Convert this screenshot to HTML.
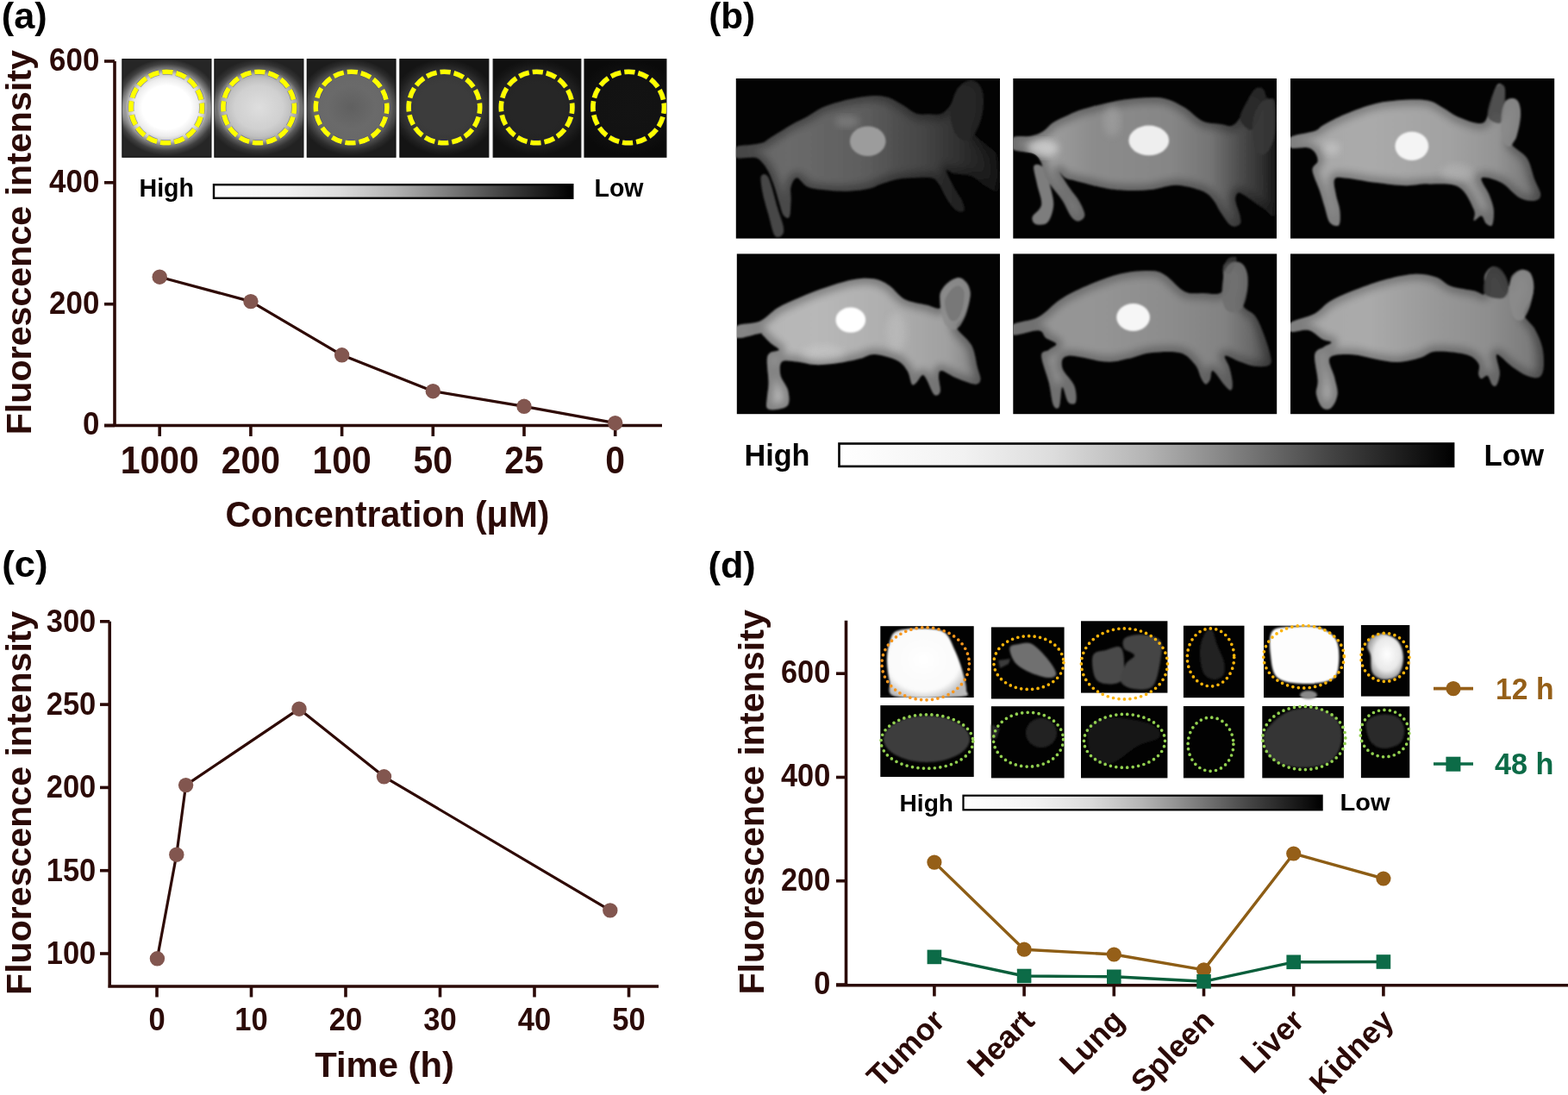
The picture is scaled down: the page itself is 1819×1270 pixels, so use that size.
<!DOCTYPE html>
<html><head><meta charset="utf-8"><title>Figure</title>
<style>html,body{margin:0;padding:0;background:#fff;overflow:hidden}svg{display:block}</style>
</head><body>
<svg width="1819" height="1270" viewBox="0 0 1819 1270" font-family="'Liberation Sans', Arial, sans-serif" font-weight="bold">
<defs>
<filter id="blur2" x="-5%" y="-5%" width="110%" height="110%"><feGaussianBlur stdDeviation="2"/></filter>
<filter id="blur1" x="-10%" y="-10%" width="120%" height="120%"><feGaussianBlur stdDeviation="1"/></filter>
<filter id="blur4" x="-20%" y="-20%" width="140%" height="140%"><feGaussianBlur stdDeviation="4"/></filter>
<filter id="blur6" x="-30%" y="-60%" width="160%" height="220%"><feGaussianBlur stdDeviation="6"/></filter>
<filter id="blur3" x="-20%" y="-20%" width="140%" height="140%"><feGaussianBlur stdDeviation="3"/></filter>
<radialGradient id="tg0" gradientUnits="userSpaceOnUse" cx="193.2" cy="124.5" r="56" gradientTransform="translate(193.2,124.5) scale(1.12,1) translate(-193.2,-124.5)"><stop offset="0" stop-color="#ffffff"/><stop offset="0.45" stop-color="#ffffff"/><stop offset="0.6" stop-color="#ececec"/><stop offset="0.7" stop-color="#cacaca"/><stop offset="0.8" stop-color="#7a7a7a"/><stop offset="0.9" stop-color="#404040"/><stop offset="1" stop-color="#262626"/></radialGradient>
<clipPath id="tc0"><rect x="141.9" y="68.7" width="103.0" height="113.5"/></clipPath>
<radialGradient id="tg1" gradientUnits="userSpaceOnUse" cx="300.2" cy="124.5" r="56" gradientTransform="translate(300.2,124.5) scale(1.12,1) translate(-300.2,-124.5)"><stop offset="0" stop-color="#dedede"/><stop offset="0.45" stop-color="#d0d0d0"/><stop offset="0.6" stop-color="#c0c0c0"/><stop offset="0.7" stop-color="#a8a8a8"/><stop offset="0.8" stop-color="#5a5a5a"/><stop offset="0.9" stop-color="#333333"/><stop offset="1" stop-color="#222222"/></radialGradient>
<clipPath id="tc1"><rect x="248.9" y="68.7" width="103.0" height="113.5"/></clipPath>
<radialGradient id="tg2" gradientUnits="userSpaceOnUse" cx="407.6" cy="124.5" r="56" gradientTransform="translate(407.6,124.5) scale(1.12,1) translate(-407.6,-124.5)"><stop offset="0" stop-color="#606060"/><stop offset="0.45" stop-color="#6a6a6a"/><stop offset="0.7" stop-color="#686868"/><stop offset="0.8" stop-color="#484848"/><stop offset="0.9" stop-color="#2c2c2c"/><stop offset="1" stop-color="#1c1c1c"/></radialGradient>
<clipPath id="tc2"><rect x="356.3" y="68.7" width="102.7" height="113.5"/></clipPath>
<radialGradient id="tg3" gradientUnits="userSpaceOnUse" cx="515.4" cy="124.5" r="56" gradientTransform="translate(515.4,124.5) scale(1.12,1) translate(-515.4,-124.5)"><stop offset="0" stop-color="#3c3c3c"/><stop offset="0.5" stop-color="#3c3c3c"/><stop offset="0.7" stop-color="#383838"/><stop offset="0.8" stop-color="#2c2c2c"/><stop offset="0.9" stop-color="#1e1e1e"/><stop offset="1" stop-color="#141414"/></radialGradient>
<clipPath id="tc3"><rect x="463.9" y="68.7" width="102.9" height="113.5"/></clipPath>
<radialGradient id="tg4" gradientUnits="userSpaceOnUse" cx="622.6" cy="124.5" r="56" gradientTransform="translate(622.6,124.5) scale(1.12,1) translate(-622.6,-124.5)"><stop offset="0" stop-color="#262626"/><stop offset="0.5" stop-color="#262626"/><stop offset="0.7" stop-color="#232323"/><stop offset="0.8" stop-color="#1e1e1e"/><stop offset="0.9" stop-color="#161616"/><stop offset="1" stop-color="#101010"/></radialGradient>
<clipPath id="tc4"><rect x="572.2" y="68.7" width="101.6" height="113.5"/></clipPath>
<radialGradient id="tg5" gradientUnits="userSpaceOnUse" cx="729.2" cy="124.5" r="56" gradientTransform="translate(729.2,124.5) scale(1.12,1) translate(-729.2,-124.5)"><stop offset="0" stop-color="#131313"/><stop offset="0.6" stop-color="#121212"/><stop offset="1" stop-color="#0a0a0a"/></radialGradient>
<clipPath id="tc5"><rect x="678.0" y="68.7" width="94.9" height="113.5"/></clipPath>
<linearGradient id="gb12" x1="0" x2="1" y1="0" y2="0"><stop offset="0" stop-color="#ffffff"/><stop offset="0.2" stop-color="#f2f2f2"/><stop offset="0.35" stop-color="#dcdcdc"/><stop offset="0.5" stop-color="#b4b4b4"/><stop offset="0.6" stop-color="#909090"/><stop offset="0.7" stop-color="#6a6a6a"/><stop offset="0.8" stop-color="#444444"/><stop offset="0.9" stop-color="#222222"/><stop offset="1" stop-color="#000000"/></linearGradient>
<linearGradient id="gb13" x1="0" x2="1" y1="0" y2="0"><stop offset="0" stop-color="#ffffff"/><stop offset="0.2" stop-color="#f2f2f2"/><stop offset="0.35" stop-color="#dcdcdc"/><stop offset="0.5" stop-color="#b4b4b4"/><stop offset="0.6" stop-color="#909090"/><stop offset="0.7" stop-color="#6a6a6a"/><stop offset="0.8" stop-color="#444444"/><stop offset="0.9" stop-color="#222222"/><stop offset="1" stop-color="#000000"/></linearGradient>
<linearGradient id="gb14" x1="0" x2="1" y1="0" y2="0"><stop offset="0" stop-color="#ffffff"/><stop offset="0.2" stop-color="#f2f2f2"/><stop offset="0.35" stop-color="#dcdcdc"/><stop offset="0.5" stop-color="#b4b4b4"/><stop offset="0.6" stop-color="#909090"/><stop offset="0.7" stop-color="#6a6a6a"/><stop offset="0.8" stop-color="#444444"/><stop offset="0.9" stop-color="#222222"/><stop offset="1" stop-color="#000000"/></linearGradient>
</defs>
<rect width="1819" height="1270" fill="#fff"/>
<text x="1.8" y="32.5" font-size="42.8" fill="#000" text-anchor="start" textLength="52.9" lengthAdjust="spacingAndGlyphs" >(a)</text>
<text x="822.2" y="32.8" font-size="42.8" fill="#000" text-anchor="start" textLength="54" lengthAdjust="spacingAndGlyphs" >(b)</text>
<text x="2.3" y="669.0" font-size="42.8" fill="#000" text-anchor="start" textLength="53.3" lengthAdjust="spacingAndGlyphs" >(c)</text>
<text x="821.5" y="670.4" font-size="42.8" fill="#000" text-anchor="start" textLength="55.2" lengthAdjust="spacingAndGlyphs" >(d)</text>
<path d="M133,71.0 V493.5 M121,493.5 H768" stroke="#2b0a07" stroke-width="3.6" fill="none"/>
<path d="M121,493.5 H133" stroke="#2b0a07" stroke-width="3.6"/>
<text x="115.3" y="504.3" font-size="36" fill="#2b0a07" text-anchor="end" textLength="19.4" lengthAdjust="spacingAndGlyphs" >0</text>
<path d="M121,352.7 H133" stroke="#2b0a07" stroke-width="3.6"/>
<text x="115.3" y="363.5" font-size="36" fill="#2b0a07" text-anchor="end" textLength="58.199999999999996" lengthAdjust="spacingAndGlyphs" >200</text>
<path d="M121,211.8 H133" stroke="#2b0a07" stroke-width="3.6"/>
<text x="115.3" y="222.6" font-size="36" fill="#2b0a07" text-anchor="end" textLength="58.199999999999996" lengthAdjust="spacingAndGlyphs" >400</text>
<path d="M121,71.0 H133" stroke="#2b0a07" stroke-width="3.6"/>
<text x="115.3" y="81.8" font-size="36" fill="#2b0a07" text-anchor="end" textLength="58.199999999999996" lengthAdjust="spacingAndGlyphs" >600</text>
<path d="M185.2,493.5 V506" stroke="#2b0a07" stroke-width="3.6"/>
<text x="185.2" y="548.5" font-size="43.5" fill="#2b0a07" text-anchor="middle" textLength="91.0" lengthAdjust="spacingAndGlyphs" >1000</text>
<path d="M290.9,493.5 V506" stroke="#2b0a07" stroke-width="3.6"/>
<text x="290.9" y="548.5" font-size="43.5" fill="#2b0a07" text-anchor="middle" textLength="68.25" lengthAdjust="spacingAndGlyphs" >200</text>
<path d="M396.6,493.5 V506" stroke="#2b0a07" stroke-width="3.6"/>
<text x="396.6" y="548.5" font-size="43.5" fill="#2b0a07" text-anchor="middle" textLength="68.25" lengthAdjust="spacingAndGlyphs" >100</text>
<path d="M502.3,493.5 V506" stroke="#2b0a07" stroke-width="3.6"/>
<text x="502.3" y="548.5" font-size="43.5" fill="#2b0a07" text-anchor="middle" textLength="45.5" lengthAdjust="spacingAndGlyphs" >50</text>
<path d="M608.0,493.5 V506" stroke="#2b0a07" stroke-width="3.6"/>
<text x="608.0" y="548.5" font-size="43.5" fill="#2b0a07" text-anchor="middle" textLength="45.5" lengthAdjust="spacingAndGlyphs" >25</text>
<path d="M713.7,493.5 V506" stroke="#2b0a07" stroke-width="3.6"/>
<text x="713.7" y="548.5" font-size="43.5" fill="#2b0a07" text-anchor="middle" textLength="22.75" lengthAdjust="spacingAndGlyphs" >0</text>
<text x="261.5" y="610.8" font-size="42" fill="#2b0a07" text-anchor="start" textLength="376" lengthAdjust="spacingAndGlyphs" >Concentration (&#956;M)</text>
<text transform="translate(35.8,504.3) rotate(-90)" x="0" y="0" font-size="41" fill="#2b0a07" textLength="446.3" lengthAdjust="spacingAndGlyphs">Fluorescence intensity</text>
<polyline points="185.2,321.2 290.9,349.6 396.6,411.8 502.3,453.7 608.0,471.3 713.7,490.6" fill="none" stroke="#2e0a05" stroke-width="3.2" stroke-linejoin="round"/>
<circle cx="185.2" cy="321.2" r="8.7" fill="#82564f"/>
<circle cx="290.9" cy="349.6" r="8.7" fill="#82564f"/>
<circle cx="396.6" cy="411.8" r="8.7" fill="#82564f"/>
<circle cx="502.3" cy="453.7" r="8.7" fill="#82564f"/>
<circle cx="608.0" cy="471.3" r="8.7" fill="#82564f"/>
<circle cx="713.7" cy="490.6" r="8.7" fill="#82564f"/>
<rect x="141.9" y="68.7" width="103.0" height="113.5" fill="url(#tg0)" stroke="#111" stroke-width="1.2"/>
<g clip-path="url(#tc0)" style="mix-blend-mode:lighten"><ellipse cx="193.2" cy="127" rx="60" ry="20" fill="#9a9a9a" filter="url(#blur6)"/></g>
<circle cx="193.2" cy="124.5" r="41.3" fill="none" stroke="#2a2f70" stroke-width="7" stroke-dasharray="12.2 4" stroke-dashoffset="5" clip-path="url(#tc0)" opacity="0.45"/>
<circle cx="193.2" cy="124.5" r="41.3" fill="none" stroke="#ffff00" stroke-width="5.6" stroke-dasharray="12.2 4" stroke-dashoffset="5" clip-path="url(#tc0)"/>
<rect x="248.9" y="68.7" width="103.0" height="113.5" fill="url(#tg1)" stroke="#111" stroke-width="1.2"/>
<g clip-path="url(#tc1)" style="mix-blend-mode:lighten"><ellipse cx="300.2" cy="127" rx="60" ry="20" fill="#727272" filter="url(#blur6)"/></g>
<circle cx="300.2" cy="124.5" r="41.3" fill="none" stroke="#2a2f70" stroke-width="7" stroke-dasharray="12.2 4" stroke-dashoffset="5" clip-path="url(#tc1)" opacity="0.45"/>
<circle cx="300.2" cy="124.5" r="41.3" fill="none" stroke="#ffff00" stroke-width="5.6" stroke-dasharray="12.2 4" stroke-dashoffset="5" clip-path="url(#tc1)"/>
<rect x="356.3" y="68.7" width="102.7" height="113.5" fill="url(#tg2)" stroke="#111" stroke-width="1.2"/>
<g clip-path="url(#tc2)" style="mix-blend-mode:lighten"><ellipse cx="407.6" cy="127" rx="60" ry="20" fill="#4c4c4c" filter="url(#blur6)"/></g>
<circle cx="407.6" cy="124.5" r="41.3" fill="none" stroke="#2a2f70" stroke-width="7" stroke-dasharray="12.2 4" stroke-dashoffset="5" clip-path="url(#tc2)" opacity="0.45"/>
<circle cx="407.6" cy="124.5" r="41.3" fill="none" stroke="#ffff00" stroke-width="5.6" stroke-dasharray="12.2 4" stroke-dashoffset="5" clip-path="url(#tc2)"/>
<rect x="463.9" y="68.7" width="102.9" height="113.5" fill="url(#tg3)" stroke="#111" stroke-width="1.2"/>
<g clip-path="url(#tc3)" style="mix-blend-mode:lighten"><ellipse cx="515.4" cy="127" rx="60" ry="20" fill="#2e2e2e" filter="url(#blur6)"/></g>
<circle cx="515.4" cy="124.5" r="41.3" fill="none" stroke="#2a2f70" stroke-width="7" stroke-dasharray="12.2 4" stroke-dashoffset="5" clip-path="url(#tc3)" opacity="0.45"/>
<circle cx="515.4" cy="124.5" r="41.3" fill="none" stroke="#ffff00" stroke-width="5.6" stroke-dasharray="12.2 4" stroke-dashoffset="5" clip-path="url(#tc3)"/>
<rect x="572.2" y="68.7" width="101.6" height="113.5" fill="url(#tg4)" stroke="#111" stroke-width="1.2"/>
<circle cx="622.6" cy="124.5" r="41.3" fill="none" stroke="#2a2f70" stroke-width="7" stroke-dasharray="12.2 4" stroke-dashoffset="5" clip-path="url(#tc4)" opacity="0.45"/>
<circle cx="622.6" cy="124.5" r="41.3" fill="none" stroke="#ffff00" stroke-width="5.6" stroke-dasharray="12.2 4" stroke-dashoffset="5" clip-path="url(#tc4)"/>
<rect x="678.0" y="68.7" width="94.9" height="113.5" fill="url(#tg5)" stroke="#111" stroke-width="1.2"/>
<circle cx="729.2" cy="124.5" r="41.3" fill="none" stroke="#2a2f70" stroke-width="7" stroke-dasharray="12.2 4" stroke-dashoffset="5" clip-path="url(#tc5)" opacity="0.45"/>
<circle cx="729.2" cy="124.5" r="41.3" fill="none" stroke="#ffff00" stroke-width="5.6" stroke-dasharray="12.2 4" stroke-dashoffset="5" clip-path="url(#tc5)"/>
<rect x="248.0" y="214.2" width="416.3" height="15.6" fill="url(#gb12)" stroke="#000" stroke-width="2.4"/>
<text x="161.5" y="228.4" font-size="29" fill="#000" text-anchor="start" textLength="63.5" lengthAdjust="spacingAndGlyphs" >High</text>
<text x="689.5" y="228.2" font-size="29" fill="#000" text-anchor="start" textLength="57" lengthAdjust="spacingAndGlyphs" >Low</text>
<g id="mice">
<defs><clipPath id="mc0"><rect x="853.8" y="91.0" width="306.2" height="185.6"/></clipPath><linearGradient id="mg0" gradientUnits="userSpaceOnUse" x1="853.8" y1="0" x2="1160.0" y2="0"><stop offset="0" stop-color="#646464"/><stop offset="0.2" stop-color="#6a6a6a"/><stop offset="0.4" stop-color="#626262"/><stop offset="0.5" stop-color="#5c5c5c"/><stop offset="0.6" stop-color="#505050"/><stop offset="0.72" stop-color="#444444"/><stop offset="0.87" stop-color="#2c2c2c"/><stop offset="1" stop-color="#161616"/></linearGradient></defs>
<rect x="853.8" y="91.0" width="306.2" height="185.6" fill="#030303"/>
<g clip-path="url(#mc0)"><g filter="url(#blur1)">
<path d="M882.9,204.5 C884.1,201.6 888.4,200.2 891.6,206.2 C894.7,212.3 899.1,231.3 901.9,240.8 C904.8,250.4 908.0,258.0 908.9,263.4 C909.7,268.7 908.9,271.3 907.1,272.9 C905.4,274.5 901.1,276.8 898.5,272.9 C895.9,269.0 893.9,257.7 891.6,249.5 C889.2,241.3 886.1,231.0 884.6,223.5 C883.2,216.0 881.7,207.4 882.9,204.5Z" fill="#464646"/>
<path d="M853.8,170.7 C856.6,168.3 865.6,169.0 870.8,168.1 C875.9,167.3 881.2,166.7 884.6,165.5 C888.1,164.4 888.1,163.4 891.6,161.2 C895.0,159.0 900.8,155.4 905.4,152.5 C910.0,149.6 914.1,146.8 919.3,143.9 C924.5,141.0 930.8,138.4 936.6,135.2 C942.4,132.0 948.1,127.6 953.9,124.8 C959.7,122.1 965.4,120.5 971.2,118.8 C977.0,117.0 981.3,115.7 988.5,114.4 C995.7,113.1 1007.3,111.1 1014.5,111.0 C1021.7,110.8 1026.0,111.6 1031.8,113.6 C1037.6,115.6 1043.9,120.1 1049.1,123.1 C1054.3,126.1 1058.1,130.2 1063.0,131.8 C1067.9,133.3 1073.7,132.6 1078.6,132.6 C1083.5,132.6 1088.4,133.6 1092.4,131.8 C1096.5,129.9 1100.2,125.1 1102.8,121.4 C1105.4,117.6 1105.7,113.3 1108.0,109.2 C1110.3,105.2 1113.5,99.6 1116.7,97.1 C1119.8,94.7 1123.9,94.2 1127.1,94.5 C1130.2,94.8 1133.4,96.1 1135.7,98.9 C1138.0,101.6 1140.5,104.6 1140.9,111.0 C1141.3,117.3 1140.0,129.7 1138.3,136.9 C1136.6,144.2 1129.5,149.1 1130.5,154.3 C1131.5,159.5 1139.9,163.5 1144.4,168.1 C1148.8,172.7 1155.1,173.3 1157.4,182.0 C1159.7,190.6 1160.4,214.3 1158.2,220.1 C1156.1,225.8 1149.6,219.2 1144.4,216.6 C1139.2,214.0 1133.4,207.1 1127.1,204.5 C1120.7,201.9 1111.2,202.2 1106.3,201.0 C1101.4,199.9 1097.6,195.0 1097.6,197.6 C1097.6,200.2 1103.1,210.5 1106.3,216.6 C1109.5,222.7 1114.6,229.3 1116.7,233.9 C1118.7,238.5 1119.6,242.6 1118.4,244.3 C1117.2,246.0 1112.9,246.3 1109.7,244.3 C1106.6,242.3 1102.8,237.4 1099.4,232.2 C1095.9,227.0 1092.1,217.5 1089.0,213.1 C1085.8,208.8 1085.5,207.4 1080.3,206.2 C1075.1,205.1 1064.4,205.9 1057.8,206.2 C1051.2,206.5 1046.2,206.8 1040.5,207.9 C1034.7,209.1 1028.9,211.3 1023.2,213.1 C1017.4,215.0 1013.1,217.8 1005.8,219.2 C998.6,220.6 988.5,221.7 979.9,221.8 C971.2,221.9 961.1,220.9 953.9,220.1 C946.7,219.2 941.5,218.9 936.6,216.6 C931.7,214.3 927.6,206.2 924.5,206.2 C921.3,206.2 918.7,212.3 917.5,216.6 C916.4,220.9 917.8,226.4 917.5,232.2 C917.2,238.0 917.2,248.3 915.8,251.2 C914.4,254.1 910.9,252.4 908.9,249.5 C906.9,246.6 905.4,239.4 903.7,233.9 C901.9,228.4 900.5,222.4 898.5,216.6 C896.5,210.8 893.9,203.9 891.6,199.3 C889.2,194.7 887.2,191.6 884.6,188.9 C882.0,186.2 881.1,183.8 876.0,182.8 C870.8,181.8 857.5,184.9 853.8,182.8 C850.1,180.8 851.0,173.2 853.8,170.7Z" fill="url(#mg0)"/>
<clipPath id="mb0"><path d="M853.8,170.7 C856.6,168.3 865.6,169.0 870.8,168.1 C875.9,167.3 881.2,166.7 884.6,165.5 C888.1,164.4 888.1,163.4 891.6,161.2 C895.0,159.0 900.8,155.4 905.4,152.5 C910.0,149.6 914.1,146.8 919.3,143.9 C924.5,141.0 930.8,138.4 936.6,135.2 C942.4,132.0 948.1,127.6 953.9,124.8 C959.7,122.1 965.4,120.5 971.2,118.8 C977.0,117.0 981.3,115.7 988.5,114.4 C995.7,113.1 1007.3,111.1 1014.5,111.0 C1021.7,110.8 1026.0,111.6 1031.8,113.6 C1037.6,115.6 1043.9,120.1 1049.1,123.1 C1054.3,126.1 1058.1,130.2 1063.0,131.8 C1067.9,133.3 1073.7,132.6 1078.6,132.6 C1083.5,132.6 1088.4,133.6 1092.4,131.8 C1096.5,129.9 1100.2,125.1 1102.8,121.4 C1105.4,117.6 1105.7,113.3 1108.0,109.2 C1110.3,105.2 1113.5,99.6 1116.7,97.1 C1119.8,94.7 1123.9,94.2 1127.1,94.5 C1130.2,94.8 1133.4,96.1 1135.7,98.9 C1138.0,101.6 1140.5,104.6 1140.9,111.0 C1141.3,117.3 1140.0,129.7 1138.3,136.9 C1136.6,144.2 1129.5,149.1 1130.5,154.3 C1131.5,159.5 1139.9,163.5 1144.4,168.1 C1148.8,172.7 1155.1,173.3 1157.4,182.0 C1159.7,190.6 1160.4,214.3 1158.2,220.1 C1156.1,225.8 1149.6,219.2 1144.4,216.6 C1139.2,214.0 1133.4,207.1 1127.1,204.5 C1120.7,201.9 1111.2,202.2 1106.3,201.0 C1101.4,199.9 1097.6,195.0 1097.6,197.6 C1097.6,200.2 1103.1,210.5 1106.3,216.6 C1109.5,222.7 1114.6,229.3 1116.7,233.9 C1118.7,238.5 1119.6,242.6 1118.4,244.3 C1117.2,246.0 1112.9,246.3 1109.7,244.3 C1106.6,242.3 1102.8,237.4 1099.4,232.2 C1095.9,227.0 1092.1,217.5 1089.0,213.1 C1085.8,208.8 1085.5,207.4 1080.3,206.2 C1075.1,205.1 1064.4,205.9 1057.8,206.2 C1051.2,206.5 1046.2,206.8 1040.5,207.9 C1034.7,209.1 1028.9,211.3 1023.2,213.1 C1017.4,215.0 1013.1,217.8 1005.8,219.2 C998.6,220.6 988.5,221.7 979.9,221.8 C971.2,221.9 961.1,220.9 953.9,220.1 C946.7,219.2 941.5,218.9 936.6,216.6 C931.7,214.3 927.6,206.2 924.5,206.2 C921.3,206.2 918.7,212.3 917.5,216.6 C916.4,220.9 917.8,226.4 917.5,232.2 C917.2,238.0 917.2,248.3 915.8,251.2 C914.4,254.1 910.9,252.4 908.9,249.5 C906.9,246.6 905.4,239.4 903.7,233.9 C901.9,228.4 900.5,222.4 898.5,216.6 C896.5,210.8 893.9,203.9 891.6,199.3 C889.2,194.7 887.2,191.6 884.6,188.9 C882.0,186.2 881.1,183.8 876.0,182.8 C870.8,181.8 857.5,184.9 853.8,182.8 C850.1,180.8 851.0,173.2 853.8,170.7Z"/></clipPath>
<g clip-path="url(#mb0)"><path d="M853.8,170.7 C856.6,168.3 865.6,169.0 870.8,168.1 C875.9,167.3 881.2,166.7 884.6,165.5 C888.1,164.4 888.1,163.4 891.6,161.2 C895.0,159.0 900.8,155.4 905.4,152.5 C910.0,149.6 914.1,146.8 919.3,143.9 C924.5,141.0 930.8,138.4 936.6,135.2 C942.4,132.0 948.1,127.6 953.9,124.8 C959.7,122.1 965.4,120.5 971.2,118.8 C977.0,117.0 981.3,115.7 988.5,114.4 C995.7,113.1 1007.3,111.1 1014.5,111.0 C1021.7,110.8 1026.0,111.6 1031.8,113.6 C1037.6,115.6 1043.9,120.1 1049.1,123.1 C1054.3,126.1 1058.1,130.2 1063.0,131.8 C1067.9,133.3 1073.7,132.6 1078.6,132.6 C1083.5,132.6 1088.4,133.6 1092.4,131.8 C1096.5,129.9 1100.2,125.1 1102.8,121.4 C1105.4,117.6 1105.7,113.3 1108.0,109.2 C1110.3,105.2 1113.5,99.6 1116.7,97.1 C1119.8,94.7 1123.9,94.2 1127.1,94.5 C1130.2,94.8 1133.4,96.1 1135.7,98.9 C1138.0,101.6 1140.5,104.6 1140.9,111.0 C1141.3,117.3 1140.0,129.7 1138.3,136.9 C1136.6,144.2 1129.5,149.1 1130.5,154.3 C1131.5,159.5 1139.9,163.5 1144.4,168.1 C1148.8,172.7 1155.1,173.3 1157.4,182.0 C1159.7,190.6 1160.4,214.3 1158.2,220.1 C1156.1,225.8 1149.6,219.2 1144.4,216.6 C1139.2,214.0 1133.4,207.1 1127.1,204.5 C1120.7,201.9 1111.2,202.2 1106.3,201.0 C1101.4,199.9 1097.6,195.0 1097.6,197.6 C1097.6,200.2 1103.1,210.5 1106.3,216.6 C1109.5,222.7 1114.6,229.3 1116.7,233.9 C1118.7,238.5 1119.6,242.6 1118.4,244.3 C1117.2,246.0 1112.9,246.3 1109.7,244.3 C1106.6,242.3 1102.8,237.4 1099.4,232.2 C1095.9,227.0 1092.1,217.5 1089.0,213.1 C1085.8,208.8 1085.5,207.4 1080.3,206.2 C1075.1,205.1 1064.4,205.9 1057.8,206.2 C1051.2,206.5 1046.2,206.8 1040.5,207.9 C1034.7,209.1 1028.9,211.3 1023.2,213.1 C1017.4,215.0 1013.1,217.8 1005.8,219.2 C998.6,220.6 988.5,221.7 979.9,221.8 C971.2,221.9 961.1,220.9 953.9,220.1 C946.7,219.2 941.5,218.9 936.6,216.6 C931.7,214.3 927.6,206.2 924.5,206.2 C921.3,206.2 918.7,212.3 917.5,216.6 C916.4,220.9 917.8,226.4 917.5,232.2 C917.2,238.0 917.2,248.3 915.8,251.2 C914.4,254.1 910.9,252.4 908.9,249.5 C906.9,246.6 905.4,239.4 903.7,233.9 C901.9,228.4 900.5,222.4 898.5,216.6 C896.5,210.8 893.9,203.9 891.6,199.3 C889.2,194.7 887.2,191.6 884.6,188.9 C882.0,186.2 881.1,183.8 876.0,182.8 C870.8,181.8 857.5,184.9 853.8,182.8 C850.1,180.8 851.0,173.2 853.8,170.7Z" fill="none" stroke="#000" stroke-width="14" opacity="0.3" filter="url(#blur4)"/></g>
<path d="M1104.5,119.6 C1105.7,114.1 1107.1,108.2 1109.7,104.0 C1112.3,99.9 1116.7,96.3 1120.1,94.5 C1123.6,92.8 1127.5,92.4 1130.5,93.7 C1133.5,95.0 1136.6,98.0 1138.3,102.3 C1140.0,106.6 1141.1,113.3 1140.9,119.6 C1140.8,126.0 1139.5,134.1 1137.4,140.4 C1135.4,146.8 1132.0,154.0 1128.8,157.7 C1125.6,161.5 1121.9,163.5 1118.4,162.9 C1114.9,162.3 1110.6,158.6 1108.0,154.3 C1105.4,149.9 1103.4,142.7 1102.8,136.9 C1102.2,131.2 1103.4,125.1 1104.5,119.6Z" fill="#262626" opacity="0.85"/>
</g>
<g clip-path="url(#mb0)"><ellipse cx="983" cy="141" rx="14" ry="7" fill="#8a8a8a" opacity="0.6" filter="url(#blur4)"/></g>
<ellipse cx="1006.7" cy="163.8" rx="20.8" ry="17.3" fill="#9c9c9c" filter="url(#blur1)"/>
</g>
<defs><clipPath id="mc1"><rect x="1175.3" y="91.0" width="305.7" height="185.6"/></clipPath><linearGradient id="mg1" gradientUnits="userSpaceOnUse" x1="1175.3" y1="0" x2="1481.0" y2="0"><stop offset="0" stop-color="#959595"/><stop offset="0.12" stop-color="#a0a0a0"/><stop offset="0.3" stop-color="#8c8c8c"/><stop offset="0.6" stop-color="#868686"/><stop offset="0.75" stop-color="#747474"/><stop offset="0.88" stop-color="#464646"/><stop offset="1" stop-color="#1e1e1e"/></linearGradient></defs>
<rect x="1175.3" y="91.0" width="305.7" height="185.6" fill="#030303"/>
<g clip-path="url(#mc1)"><g filter="url(#blur1)">
<path d="M1199.4,192.4 C1200.9,189.5 1208.1,190.6 1211.6,195.8 C1215.0,201.0 1218.5,216.0 1220.2,223.5 C1221.9,231.0 1222.8,235.1 1221.9,240.8 C1221.1,246.6 1218.5,255.0 1215.0,258.2 C1211.6,261.3 1204.1,261.0 1201.2,259.9 C1198.3,258.7 1196.6,255.0 1197.7,251.2 C1198.9,247.5 1207.2,243.7 1208.1,237.4 C1209.0,231.0 1204.3,220.6 1202.9,213.1 C1201.5,205.6 1198.0,195.2 1199.4,192.4Z" fill="#7d7d7d"/>
<path d="M1175.2,159.5 C1178.7,156.9 1190.2,158.9 1196.0,157.7 C1201.7,156.6 1205.5,155.1 1209.8,152.5 C1214.2,149.9 1217.0,145.3 1221.9,142.1 C1226.9,139.0 1233.5,136.1 1239.3,133.5 C1245.0,130.9 1247.9,129.2 1256.6,126.6 C1265.2,124.0 1279.7,120.1 1291.2,117.9 C1302.8,115.7 1315.7,114.1 1325.8,113.6 C1335.9,113.0 1343.7,112.6 1351.8,114.4 C1359.9,116.3 1367.1,120.5 1374.3,124.8 C1381.5,129.2 1388.2,137.2 1395.1,140.4 C1402.0,143.6 1410.1,143.0 1415.9,143.9 C1421.7,144.7 1425.7,147.3 1429.7,145.6 C1433.8,143.9 1436.7,139.3 1440.1,133.5 C1443.6,127.7 1447.6,116.2 1450.5,111.0 C1453.4,105.8 1455.1,103.5 1457.4,102.3 C1459.8,101.2 1462.1,102.0 1464.4,104.0 C1466.7,106.1 1468.8,112.1 1471.3,114.4 C1473.8,116.7 1477.6,111.3 1479.1,117.9 C1480.5,124.5 1479.8,142.4 1480.0,154.3 C1480.1,166.1 1480.0,173.3 1480.0,188.9 C1480.0,204.5 1482.6,239.1 1480.0,247.8 C1477.4,256.4 1469.9,244.0 1464.4,240.8 C1458.9,237.7 1451.7,231.6 1447.1,228.7 C1442.4,225.8 1439.0,223.0 1436.7,223.5 C1434.4,224.1 1432.9,227.9 1433.2,232.2 C1433.5,236.5 1437.5,244.9 1438.4,249.5 C1439.3,254.1 1440.1,257.9 1438.4,259.9 C1436.7,261.9 1431.8,263.9 1428.0,261.6 C1424.3,259.3 1419.1,250.7 1415.9,246.0 C1412.7,241.4 1411.8,237.7 1409.0,233.9 C1406.1,230.2 1403.8,226.4 1398.6,223.5 C1393.4,220.6 1384.1,218.0 1377.8,216.6 C1371.4,215.2 1367.7,214.3 1360.5,214.9 C1353.3,215.4 1343.2,219.1 1334.5,220.1 C1325.8,221.1 1317.2,221.2 1308.5,220.9 C1299.9,220.6 1292.7,220.2 1282.6,218.3 C1272.5,216.5 1255.7,211.7 1247.9,209.7 C1240.1,207.7 1239.0,207.9 1235.8,206.2 C1232.6,204.5 1228.0,197.3 1228.9,199.3 C1229.7,201.3 1237.1,212.6 1241.0,218.3 C1244.9,224.1 1249.4,228.7 1252.3,233.9 C1255.1,239.1 1258.5,245.8 1258.3,249.5 C1258.2,253.3 1254.0,256.1 1251.4,256.4 C1248.8,256.7 1245.9,255.3 1242.7,251.2 C1239.6,247.2 1236.1,238.0 1232.3,232.2 C1228.6,226.4 1223.7,221.5 1220.2,216.6 C1216.8,211.7 1213.6,207.4 1211.6,202.7 C1209.5,198.1 1210.1,192.9 1208.1,188.9 C1206.1,184.9 1204.9,181.1 1199.4,178.5 C1194.0,175.9 1179.2,176.5 1175.2,173.3 C1171.2,170.1 1171.7,162.1 1175.2,159.5Z" fill="url(#mg1)"/>
<clipPath id="mb1"><path d="M1175.2,159.5 C1178.7,156.9 1190.2,158.9 1196.0,157.7 C1201.7,156.6 1205.5,155.1 1209.8,152.5 C1214.2,149.9 1217.0,145.3 1221.9,142.1 C1226.9,139.0 1233.5,136.1 1239.3,133.5 C1245.0,130.9 1247.9,129.2 1256.6,126.6 C1265.2,124.0 1279.7,120.1 1291.2,117.9 C1302.8,115.7 1315.7,114.1 1325.8,113.6 C1335.9,113.0 1343.7,112.6 1351.8,114.4 C1359.9,116.3 1367.1,120.5 1374.3,124.8 C1381.5,129.2 1388.2,137.2 1395.1,140.4 C1402.0,143.6 1410.1,143.0 1415.9,143.9 C1421.7,144.7 1425.7,147.3 1429.7,145.6 C1433.8,143.9 1436.7,139.3 1440.1,133.5 C1443.6,127.7 1447.6,116.2 1450.5,111.0 C1453.4,105.8 1455.1,103.5 1457.4,102.3 C1459.8,101.2 1462.1,102.0 1464.4,104.0 C1466.7,106.1 1468.8,112.1 1471.3,114.4 C1473.8,116.7 1477.6,111.3 1479.1,117.9 C1480.5,124.5 1479.8,142.4 1480.0,154.3 C1480.1,166.1 1480.0,173.3 1480.0,188.9 C1480.0,204.5 1482.6,239.1 1480.0,247.8 C1477.4,256.4 1469.9,244.0 1464.4,240.8 C1458.9,237.7 1451.7,231.6 1447.1,228.7 C1442.4,225.8 1439.0,223.0 1436.7,223.5 C1434.4,224.1 1432.9,227.9 1433.2,232.2 C1433.5,236.5 1437.5,244.9 1438.4,249.5 C1439.3,254.1 1440.1,257.9 1438.4,259.9 C1436.7,261.9 1431.8,263.9 1428.0,261.6 C1424.3,259.3 1419.1,250.7 1415.9,246.0 C1412.7,241.4 1411.8,237.7 1409.0,233.9 C1406.1,230.2 1403.8,226.4 1398.6,223.5 C1393.4,220.6 1384.1,218.0 1377.8,216.6 C1371.4,215.2 1367.7,214.3 1360.5,214.9 C1353.3,215.4 1343.2,219.1 1334.5,220.1 C1325.8,221.1 1317.2,221.2 1308.5,220.9 C1299.9,220.6 1292.7,220.2 1282.6,218.3 C1272.5,216.5 1255.7,211.7 1247.9,209.7 C1240.1,207.7 1239.0,207.9 1235.8,206.2 C1232.6,204.5 1228.0,197.3 1228.9,199.3 C1229.7,201.3 1237.1,212.6 1241.0,218.3 C1244.9,224.1 1249.4,228.7 1252.3,233.9 C1255.1,239.1 1258.5,245.8 1258.3,249.5 C1258.2,253.3 1254.0,256.1 1251.4,256.4 C1248.8,256.7 1245.9,255.3 1242.7,251.2 C1239.6,247.2 1236.1,238.0 1232.3,232.2 C1228.6,226.4 1223.7,221.5 1220.2,216.6 C1216.8,211.7 1213.6,207.4 1211.6,202.7 C1209.5,198.1 1210.1,192.9 1208.1,188.9 C1206.1,184.9 1204.9,181.1 1199.4,178.5 C1194.0,175.9 1179.2,176.5 1175.2,173.3 C1171.2,170.1 1171.7,162.1 1175.2,159.5Z"/></clipPath>
<g clip-path="url(#mb1)"><path d="M1175.2,159.5 C1178.7,156.9 1190.2,158.9 1196.0,157.7 C1201.7,156.6 1205.5,155.1 1209.8,152.5 C1214.2,149.9 1217.0,145.3 1221.9,142.1 C1226.9,139.0 1233.5,136.1 1239.3,133.5 C1245.0,130.9 1247.9,129.2 1256.6,126.6 C1265.2,124.0 1279.7,120.1 1291.2,117.9 C1302.8,115.7 1315.7,114.1 1325.8,113.6 C1335.9,113.0 1343.7,112.6 1351.8,114.4 C1359.9,116.3 1367.1,120.5 1374.3,124.8 C1381.5,129.2 1388.2,137.2 1395.1,140.4 C1402.0,143.6 1410.1,143.0 1415.9,143.9 C1421.7,144.7 1425.7,147.3 1429.7,145.6 C1433.8,143.9 1436.7,139.3 1440.1,133.5 C1443.6,127.7 1447.6,116.2 1450.5,111.0 C1453.4,105.8 1455.1,103.5 1457.4,102.3 C1459.8,101.2 1462.1,102.0 1464.4,104.0 C1466.7,106.1 1468.8,112.1 1471.3,114.4 C1473.8,116.7 1477.6,111.3 1479.1,117.9 C1480.5,124.5 1479.8,142.4 1480.0,154.3 C1480.1,166.1 1480.0,173.3 1480.0,188.9 C1480.0,204.5 1482.6,239.1 1480.0,247.8 C1477.4,256.4 1469.9,244.0 1464.4,240.8 C1458.9,237.7 1451.7,231.6 1447.1,228.7 C1442.4,225.8 1439.0,223.0 1436.7,223.5 C1434.4,224.1 1432.9,227.9 1433.2,232.2 C1433.5,236.5 1437.5,244.9 1438.4,249.5 C1439.3,254.1 1440.1,257.9 1438.4,259.9 C1436.7,261.9 1431.8,263.9 1428.0,261.6 C1424.3,259.3 1419.1,250.7 1415.9,246.0 C1412.7,241.4 1411.8,237.7 1409.0,233.9 C1406.1,230.2 1403.8,226.4 1398.6,223.5 C1393.4,220.6 1384.1,218.0 1377.8,216.6 C1371.4,215.2 1367.7,214.3 1360.5,214.9 C1353.3,215.4 1343.2,219.1 1334.5,220.1 C1325.8,221.1 1317.2,221.2 1308.5,220.9 C1299.9,220.6 1292.7,220.2 1282.6,218.3 C1272.5,216.5 1255.7,211.7 1247.9,209.7 C1240.1,207.7 1239.0,207.9 1235.8,206.2 C1232.6,204.5 1228.0,197.3 1228.9,199.3 C1229.7,201.3 1237.1,212.6 1241.0,218.3 C1244.9,224.1 1249.4,228.7 1252.3,233.9 C1255.1,239.1 1258.5,245.8 1258.3,249.5 C1258.2,253.3 1254.0,256.1 1251.4,256.4 C1248.8,256.7 1245.9,255.3 1242.7,251.2 C1239.6,247.2 1236.1,238.0 1232.3,232.2 C1228.6,226.4 1223.7,221.5 1220.2,216.6 C1216.8,211.7 1213.6,207.4 1211.6,202.7 C1209.5,198.1 1210.1,192.9 1208.1,188.9 C1206.1,184.9 1204.9,181.1 1199.4,178.5 C1194.0,175.9 1179.2,176.5 1175.2,173.3 C1171.2,170.1 1171.7,162.1 1175.2,159.5Z" fill="none" stroke="#000" stroke-width="14" opacity="0.28" filter="url(#blur4)"/></g>
<path d="M1438.4,136.9 C1437.8,131.2 1444.2,121.7 1447.1,116.2 C1449.9,110.7 1452.8,106.4 1455.7,104.0 C1458.6,101.7 1462.4,100.9 1464.4,102.3 C1466.4,103.8 1468.4,106.9 1467.8,112.7 C1467.3,118.5 1463.8,130.6 1460.9,136.9 C1458.0,143.3 1454.3,150.8 1450.5,150.8 C1446.8,150.8 1439.0,142.7 1438.4,136.9Z" fill="#282828" opacity="0.85"/>
<path d="M1454.0,136.9 C1455.4,129.7 1459.5,123.4 1462.6,119.6 C1465.8,115.9 1470.3,114.4 1473.0,114.4 C1475.8,114.4 1478.1,113.0 1479.1,119.6 C1480.1,126.3 1480.4,145.0 1479.1,154.3 C1477.8,163.5 1474.3,171.0 1471.3,175.0 C1468.3,179.1 1463.8,180.5 1460.9,178.5 C1458.0,176.5 1455.1,169.8 1454.0,162.9 C1452.8,156.0 1452.5,144.2 1454.0,136.9Z" fill="#383838" opacity="0.85"/>
</g>
<g clip-path="url(#mb1)"><ellipse cx="1210" cy="172" rx="18" ry="10" fill="#d8d8d8" opacity="0.7" filter="url(#blur4)"/></g>
<g clip-path="url(#mb1)"><ellipse cx="1290" cy="140" rx="10" ry="18" fill="#b0b0b0" opacity="0.4" filter="url(#blur4)"/></g>
<ellipse cx="1332.8" cy="162.9" rx="23.4" ry="17.3" fill="#eeeeee" filter="url(#blur1)"/>
</g>
<defs><clipPath id="mc2"><rect x="1497.0" y="91.0" width="306.2" height="185.6"/></clipPath><linearGradient id="mg2" gradientUnits="userSpaceOnUse" x1="1497.0" y1="0" x2="1803.2" y2="0"><stop offset="0" stop-color="#a8a8a8"/><stop offset="0.3" stop-color="#aaaaaa"/><stop offset="0.6" stop-color="#a2a2a2"/><stop offset="0.78" stop-color="#949494"/><stop offset="0.9" stop-color="#7a7a7a"/><stop offset="1" stop-color="#484848"/></linearGradient></defs>
<rect x="1497.0" y="91.0" width="306.2" height="185.6" fill="#030303"/>
<g clip-path="url(#mc2)"><g filter="url(#blur1)">
<path d="M1497.0,158.9 C1501.7,155.7 1518.7,154.2 1525.2,151.9 C1531.6,149.5 1529.9,148.0 1535.7,144.8 C1541.6,141.6 1550.4,136.6 1560.4,132.5 C1570.3,128.4 1583.8,123.0 1595.6,120.2 C1607.3,117.4 1620.5,116.4 1630.7,115.8 C1641.0,115.2 1649.8,115.1 1657.1,116.7 C1664.5,118.3 1668.9,122.2 1674.7,125.5 C1680.6,128.7 1685.0,133.1 1692.3,136.0 C1699.7,139.0 1712.8,144.2 1718.7,143.1 C1724.6,141.9 1724.6,136.3 1727.5,129.0 C1730.4,121.7 1733.4,103.5 1736.3,99.1 C1739.2,94.7 1743.9,97.6 1745.1,102.6 C1746.3,107.6 1743.0,126.6 1743.3,129.0 C1743.6,131.3 1744.5,119.0 1746.9,116.7 C1749.2,114.3 1754.6,112.9 1757.4,114.9 C1760.2,117.0 1763.3,121.7 1763.6,129.0 C1763.9,136.3 1760.8,152.4 1759.2,158.9 C1757.6,165.3 1751.8,163.6 1753.9,167.7 C1756.0,171.8 1767.1,176.8 1771.5,183.5 C1775.9,190.3 1777.6,201.1 1780.3,208.2 C1782.9,215.2 1787.3,221.6 1787.3,225.7 C1787.3,229.9 1784.4,232.2 1780.3,232.8 C1776.2,233.4 1769.1,232.8 1762.7,229.3 C1756.2,225.7 1748.9,215.5 1741.6,211.7 C1734.3,207.9 1721.1,204.0 1718.7,206.4 C1716.4,208.7 1725.2,219.6 1727.5,225.7 C1729.9,231.9 1732.2,237.5 1732.8,243.3 C1733.4,249.2 1732.5,258.3 1731.0,260.9 C1729.6,263.6 1726.0,260.9 1724.0,259.2 C1721.9,257.4 1721.1,251.0 1718.7,250.4 C1716.4,249.8 1711.4,256.8 1709.9,255.7 C1708.4,254.5 1712.8,249.8 1709.9,243.3 C1707.0,236.9 1701.1,221.9 1692.3,216.9 C1683.5,212.0 1667.4,213.7 1657.1,213.4 C1646.9,213.1 1641.0,215.5 1630.7,215.2 C1620.5,214.9 1607.3,213.1 1595.6,211.7 C1583.8,210.2 1568.3,207.0 1560.4,206.4 C1552.5,205.8 1549.8,204.9 1548.1,208.2 C1546.3,211.4 1548.8,219.9 1549.8,225.7 C1550.8,231.6 1553.6,237.5 1554.2,243.3 C1554.8,249.2 1555.2,258.4 1553.3,260.9 C1551.4,263.4 1545.6,261.8 1542.8,258.3 C1540.0,254.8 1538.5,245.8 1536.6,239.8 C1534.7,233.8 1533.7,229.3 1531.3,222.2 C1529.0,215.2 1523.0,203.5 1522.5,197.6 C1522.1,191.7 1528.3,190.6 1528.7,187.0 C1529.1,183.5 1527.2,179.1 1525.2,176.5 C1523.1,173.8 1521.1,172.1 1516.4,171.2 C1511.7,170.3 1500.3,173.3 1497.0,171.2 C1493.8,169.2 1492.3,162.1 1497.0,158.9Z" fill="url(#mg2)"/>
<clipPath id="mb2"><path d="M1497.0,158.9 C1501.7,155.7 1518.7,154.2 1525.2,151.9 C1531.6,149.5 1529.9,148.0 1535.7,144.8 C1541.6,141.6 1550.4,136.6 1560.4,132.5 C1570.3,128.4 1583.8,123.0 1595.6,120.2 C1607.3,117.4 1620.5,116.4 1630.7,115.8 C1641.0,115.2 1649.8,115.1 1657.1,116.7 C1664.5,118.3 1668.9,122.2 1674.7,125.5 C1680.6,128.7 1685.0,133.1 1692.3,136.0 C1699.7,139.0 1712.8,144.2 1718.7,143.1 C1724.6,141.9 1724.6,136.3 1727.5,129.0 C1730.4,121.7 1733.4,103.5 1736.3,99.1 C1739.2,94.7 1743.9,97.6 1745.1,102.6 C1746.3,107.6 1743.0,126.6 1743.3,129.0 C1743.6,131.3 1744.5,119.0 1746.9,116.7 C1749.2,114.3 1754.6,112.9 1757.4,114.9 C1760.2,117.0 1763.3,121.7 1763.6,129.0 C1763.9,136.3 1760.8,152.4 1759.2,158.9 C1757.6,165.3 1751.8,163.6 1753.9,167.7 C1756.0,171.8 1767.1,176.8 1771.5,183.5 C1775.9,190.3 1777.6,201.1 1780.3,208.2 C1782.9,215.2 1787.3,221.6 1787.3,225.7 C1787.3,229.9 1784.4,232.2 1780.3,232.8 C1776.2,233.4 1769.1,232.8 1762.7,229.3 C1756.2,225.7 1748.9,215.5 1741.6,211.7 C1734.3,207.9 1721.1,204.0 1718.7,206.4 C1716.4,208.7 1725.2,219.6 1727.5,225.7 C1729.9,231.9 1732.2,237.5 1732.8,243.3 C1733.4,249.2 1732.5,258.3 1731.0,260.9 C1729.6,263.6 1726.0,260.9 1724.0,259.2 C1721.9,257.4 1721.1,251.0 1718.7,250.4 C1716.4,249.8 1711.4,256.8 1709.9,255.7 C1708.4,254.5 1712.8,249.8 1709.9,243.3 C1707.0,236.9 1701.1,221.9 1692.3,216.9 C1683.5,212.0 1667.4,213.7 1657.1,213.4 C1646.9,213.1 1641.0,215.5 1630.7,215.2 C1620.5,214.9 1607.3,213.1 1595.6,211.7 C1583.8,210.2 1568.3,207.0 1560.4,206.4 C1552.5,205.8 1549.8,204.9 1548.1,208.2 C1546.3,211.4 1548.8,219.9 1549.8,225.7 C1550.8,231.6 1553.6,237.5 1554.2,243.3 C1554.8,249.2 1555.2,258.4 1553.3,260.9 C1551.4,263.4 1545.6,261.8 1542.8,258.3 C1540.0,254.8 1538.5,245.8 1536.6,239.8 C1534.7,233.8 1533.7,229.3 1531.3,222.2 C1529.0,215.2 1523.0,203.5 1522.5,197.6 C1522.1,191.7 1528.3,190.6 1528.7,187.0 C1529.1,183.5 1527.2,179.1 1525.2,176.5 C1523.1,173.8 1521.1,172.1 1516.4,171.2 C1511.7,170.3 1500.3,173.3 1497.0,171.2 C1493.8,169.2 1492.3,162.1 1497.0,158.9Z"/></clipPath>
<g clip-path="url(#mb2)"><path d="M1497.0,158.9 C1501.7,155.7 1518.7,154.2 1525.2,151.9 C1531.6,149.5 1529.9,148.0 1535.7,144.8 C1541.6,141.6 1550.4,136.6 1560.4,132.5 C1570.3,128.4 1583.8,123.0 1595.6,120.2 C1607.3,117.4 1620.5,116.4 1630.7,115.8 C1641.0,115.2 1649.8,115.1 1657.1,116.7 C1664.5,118.3 1668.9,122.2 1674.7,125.5 C1680.6,128.7 1685.0,133.1 1692.3,136.0 C1699.7,139.0 1712.8,144.2 1718.7,143.1 C1724.6,141.9 1724.6,136.3 1727.5,129.0 C1730.4,121.7 1733.4,103.5 1736.3,99.1 C1739.2,94.7 1743.9,97.6 1745.1,102.6 C1746.3,107.6 1743.0,126.6 1743.3,129.0 C1743.6,131.3 1744.5,119.0 1746.9,116.7 C1749.2,114.3 1754.6,112.9 1757.4,114.9 C1760.2,117.0 1763.3,121.7 1763.6,129.0 C1763.9,136.3 1760.8,152.4 1759.2,158.9 C1757.6,165.3 1751.8,163.6 1753.9,167.7 C1756.0,171.8 1767.1,176.8 1771.5,183.5 C1775.9,190.3 1777.6,201.1 1780.3,208.2 C1782.9,215.2 1787.3,221.6 1787.3,225.7 C1787.3,229.9 1784.4,232.2 1780.3,232.8 C1776.2,233.4 1769.1,232.8 1762.7,229.3 C1756.2,225.7 1748.9,215.5 1741.6,211.7 C1734.3,207.9 1721.1,204.0 1718.7,206.4 C1716.4,208.7 1725.2,219.6 1727.5,225.7 C1729.9,231.9 1732.2,237.5 1732.8,243.3 C1733.4,249.2 1732.5,258.3 1731.0,260.9 C1729.6,263.6 1726.0,260.9 1724.0,259.2 C1721.9,257.4 1721.1,251.0 1718.7,250.4 C1716.4,249.8 1711.4,256.8 1709.9,255.7 C1708.4,254.5 1712.8,249.8 1709.9,243.3 C1707.0,236.9 1701.1,221.9 1692.3,216.9 C1683.5,212.0 1667.4,213.7 1657.1,213.4 C1646.9,213.1 1641.0,215.5 1630.7,215.2 C1620.5,214.9 1607.3,213.1 1595.6,211.7 C1583.8,210.2 1568.3,207.0 1560.4,206.4 C1552.5,205.8 1549.8,204.9 1548.1,208.2 C1546.3,211.4 1548.8,219.9 1549.8,225.7 C1550.8,231.6 1553.6,237.5 1554.2,243.3 C1554.8,249.2 1555.2,258.4 1553.3,260.9 C1551.4,263.4 1545.6,261.8 1542.8,258.3 C1540.0,254.8 1538.5,245.8 1536.6,239.8 C1534.7,233.8 1533.7,229.3 1531.3,222.2 C1529.0,215.2 1523.0,203.5 1522.5,197.6 C1522.1,191.7 1528.3,190.6 1528.7,187.0 C1529.1,183.5 1527.2,179.1 1525.2,176.5 C1523.1,173.8 1521.1,172.1 1516.4,171.2 C1511.7,170.3 1500.3,173.3 1497.0,171.2 C1493.8,169.2 1492.3,162.1 1497.0,158.9Z" fill="none" stroke="#000" stroke-width="14" opacity="0.25" filter="url(#blur4)"/></g>
<path d="M1725.7,134.3 C1724.6,128.1 1730.4,112.1 1732.8,106.1 C1735.1,100.1 1737.6,98.8 1739.8,98.2 C1742.0,97.6 1745.1,97.5 1746.0,102.6 C1746.9,107.7 1746.1,122.2 1745.1,129.0 C1744.1,135.7 1743.0,142.2 1739.8,143.1 C1736.6,143.9 1726.9,140.4 1725.7,134.3Z" fill="#4a4a4a" opacity="0.85"/>
<path d="M1741.6,137.8 C1741.9,130.7 1743.0,124.1 1745.1,120.2 C1747.2,116.2 1751.1,114.3 1753.9,114.0 C1756.7,113.7 1760.1,115.1 1761.8,118.4 C1763.5,121.8 1764.4,128.1 1764.1,134.3 C1763.8,140.4 1762.1,149.5 1760.1,155.4 C1758.1,161.2 1754.9,168.3 1752.1,169.4 C1749.4,170.6 1745.1,167.7 1743.3,162.4 C1741.6,157.1 1741.3,144.8 1741.6,137.8Z" fill="#8a8a8a" opacity="0.85"/>
</g>
<g clip-path="url(#mb2)"><ellipse cx="1545" cy="172" rx="10" ry="8" fill="#d0d0d0" opacity="0.5" filter="url(#blur4)"/></g>
<g clip-path="url(#mb2)"><ellipse cx="1690" cy="200" rx="18" ry="10" fill="#c0c0c0" opacity="0.4" filter="url(#blur4)"/></g>
<ellipse cx="1637.8" cy="169.4" rx="19.4" ry="16.7" fill="#f4f4f4" filter="url(#blur1)"/>
</g>
<defs><clipPath id="mc3"><rect x="854.8" y="294.4" width="305.2" height="185.8"/></clipPath><linearGradient id="mg3" gradientUnits="userSpaceOnUse" x1="854.8" y1="0" x2="1160.0" y2="0"><stop offset="0" stop-color="#b4b4b4"/><stop offset="0.3" stop-color="#b8b8b8"/><stop offset="0.6" stop-color="#adadad"/><stop offset="0.8" stop-color="#a0a0a0"/><stop offset="0.9" stop-color="#868686"/><stop offset="1" stop-color="#585858"/></linearGradient></defs>
<rect x="854.8" y="294.4" width="305.2" height="185.8" fill="#030303"/>
<g clip-path="url(#mc3)"><g filter="url(#blur1)">
<path d="M854.8,378.0 C859.2,374.9 873.3,376.3 881.2,372.8 C889.0,369.4 894.2,361.9 901.9,357.3 C909.7,352.6 919.3,348.9 927.9,345.1 C936.6,341.4 943.8,338.2 953.9,334.8 C964.0,331.3 978.4,326.2 988.5,324.4 C998.6,322.5 1007.3,322.3 1014.5,323.5 C1021.7,324.7 1026.0,327.4 1031.8,331.3 C1037.6,335.2 1041.9,343.1 1049.1,346.9 C1056.3,350.6 1068.2,352.1 1075.1,353.8 C1082.0,355.5 1088.1,359.6 1090.7,357.3 C1093.3,355.0 1089.0,344.9 1090.7,339.9 C1092.4,335.0 1097.3,330.7 1101.1,327.8 C1104.8,324.9 1109.5,321.8 1113.2,322.6 C1117.0,323.5 1121.6,329.3 1123.6,333.0 C1125.6,336.8 1126.2,339.7 1125.3,345.1 C1124.5,350.6 1121.0,360.2 1118.4,365.9 C1115.8,371.7 1108.3,374.0 1109.7,379.8 C1111.2,385.5 1123.0,392.8 1127.1,400.6 C1131.1,408.3 1132.3,419.9 1134.0,426.5 C1135.7,433.2 1138.0,437.2 1137.4,440.4 C1136.9,443.6 1135.1,445.9 1130.5,445.6 C1125.9,445.3 1116.1,441.2 1109.7,438.6 C1103.4,436.1 1095.9,430.3 1092.4,430.0 C1089.0,429.7 1089.2,432.9 1089.0,436.9 C1088.7,441.0 1091.6,450.8 1090.7,454.2 C1089.8,457.7 1086.4,460.0 1083.8,457.7 C1081.2,455.4 1077.4,444.1 1075.1,440.4 C1072.8,436.6 1071.9,434.6 1069.9,435.2 C1067.9,435.8 1065.0,442.1 1063.0,443.8 C1061.0,445.6 1059.5,447.9 1057.8,445.6 C1056.1,443.3 1055.5,434.6 1052.6,430.0 C1049.7,425.4 1046.8,421.0 1040.5,417.9 C1034.1,414.7 1021.7,411.2 1014.5,410.9 C1007.3,410.7 1004.4,414.4 997.2,416.1 C990.0,417.9 979.9,420.2 971.2,421.3 C962.6,422.5 953.0,423.4 945.2,423.1 C937.4,422.8 930.8,420.2 924.5,419.6 C918.1,419.0 910.3,417.0 907.1,419.6 C904.0,422.2 904.3,429.7 905.4,435.2 C906.6,440.7 912.6,446.7 914.1,452.5 C915.5,458.3 916.4,466.1 914.1,469.8 C911.8,473.6 904.3,474.4 900.2,475.0 C896.2,475.6 891.6,475.6 889.8,473.3 C888.1,471.0 889.5,466.1 889.8,461.2 C890.1,456.3 891.6,451.1 891.6,443.8 C891.6,436.6 889.5,423.6 889.8,417.9 C890.1,412.1 891.0,411.2 893.3,409.2 C895.6,407.2 903.4,407.5 903.7,405.7 C904.0,404.0 898.2,401.7 895.0,398.8 C891.8,395.9 886.9,390.5 884.6,388.4 C882.3,386.4 886.1,386.1 881.2,386.7 C876.2,387.3 859.2,393.3 854.8,391.9 C850.5,390.5 850.5,381.2 854.8,378.0Z" fill="url(#mg3)"/>
<clipPath id="mb3"><path d="M854.8,378.0 C859.2,374.9 873.3,376.3 881.2,372.8 C889.0,369.4 894.2,361.9 901.9,357.3 C909.7,352.6 919.3,348.9 927.9,345.1 C936.6,341.4 943.8,338.2 953.9,334.8 C964.0,331.3 978.4,326.2 988.5,324.4 C998.6,322.5 1007.3,322.3 1014.5,323.5 C1021.7,324.7 1026.0,327.4 1031.8,331.3 C1037.6,335.2 1041.9,343.1 1049.1,346.9 C1056.3,350.6 1068.2,352.1 1075.1,353.8 C1082.0,355.5 1088.1,359.6 1090.7,357.3 C1093.3,355.0 1089.0,344.9 1090.7,339.9 C1092.4,335.0 1097.3,330.7 1101.1,327.8 C1104.8,324.9 1109.5,321.8 1113.2,322.6 C1117.0,323.5 1121.6,329.3 1123.6,333.0 C1125.6,336.8 1126.2,339.7 1125.3,345.1 C1124.5,350.6 1121.0,360.2 1118.4,365.9 C1115.8,371.7 1108.3,374.0 1109.7,379.8 C1111.2,385.5 1123.0,392.8 1127.1,400.6 C1131.1,408.3 1132.3,419.9 1134.0,426.5 C1135.7,433.2 1138.0,437.2 1137.4,440.4 C1136.9,443.6 1135.1,445.9 1130.5,445.6 C1125.9,445.3 1116.1,441.2 1109.7,438.6 C1103.4,436.1 1095.9,430.3 1092.4,430.0 C1089.0,429.7 1089.2,432.9 1089.0,436.9 C1088.7,441.0 1091.6,450.8 1090.7,454.2 C1089.8,457.7 1086.4,460.0 1083.8,457.7 C1081.2,455.4 1077.4,444.1 1075.1,440.4 C1072.8,436.6 1071.9,434.6 1069.9,435.2 C1067.9,435.8 1065.0,442.1 1063.0,443.8 C1061.0,445.6 1059.5,447.9 1057.8,445.6 C1056.1,443.3 1055.5,434.6 1052.6,430.0 C1049.7,425.4 1046.8,421.0 1040.5,417.9 C1034.1,414.7 1021.7,411.2 1014.5,410.9 C1007.3,410.7 1004.4,414.4 997.2,416.1 C990.0,417.9 979.9,420.2 971.2,421.3 C962.6,422.5 953.0,423.4 945.2,423.1 C937.4,422.8 930.8,420.2 924.5,419.6 C918.1,419.0 910.3,417.0 907.1,419.6 C904.0,422.2 904.3,429.7 905.4,435.2 C906.6,440.7 912.6,446.7 914.1,452.5 C915.5,458.3 916.4,466.1 914.1,469.8 C911.8,473.6 904.3,474.4 900.2,475.0 C896.2,475.6 891.6,475.6 889.8,473.3 C888.1,471.0 889.5,466.1 889.8,461.2 C890.1,456.3 891.6,451.1 891.6,443.8 C891.6,436.6 889.5,423.6 889.8,417.9 C890.1,412.1 891.0,411.2 893.3,409.2 C895.6,407.2 903.4,407.5 903.7,405.7 C904.0,404.0 898.2,401.7 895.0,398.8 C891.8,395.9 886.9,390.5 884.6,388.4 C882.3,386.4 886.1,386.1 881.2,386.7 C876.2,387.3 859.2,393.3 854.8,391.9 C850.5,390.5 850.5,381.2 854.8,378.0Z"/></clipPath>
<g clip-path="url(#mb3)"><path d="M854.8,378.0 C859.2,374.9 873.3,376.3 881.2,372.8 C889.0,369.4 894.2,361.9 901.9,357.3 C909.7,352.6 919.3,348.9 927.9,345.1 C936.6,341.4 943.8,338.2 953.9,334.8 C964.0,331.3 978.4,326.2 988.5,324.4 C998.6,322.5 1007.3,322.3 1014.5,323.5 C1021.7,324.7 1026.0,327.4 1031.8,331.3 C1037.6,335.2 1041.9,343.1 1049.1,346.9 C1056.3,350.6 1068.2,352.1 1075.1,353.8 C1082.0,355.5 1088.1,359.6 1090.7,357.3 C1093.3,355.0 1089.0,344.9 1090.7,339.9 C1092.4,335.0 1097.3,330.7 1101.1,327.8 C1104.8,324.9 1109.5,321.8 1113.2,322.6 C1117.0,323.5 1121.6,329.3 1123.6,333.0 C1125.6,336.8 1126.2,339.7 1125.3,345.1 C1124.5,350.6 1121.0,360.2 1118.4,365.9 C1115.8,371.7 1108.3,374.0 1109.7,379.8 C1111.2,385.5 1123.0,392.8 1127.1,400.6 C1131.1,408.3 1132.3,419.9 1134.0,426.5 C1135.7,433.2 1138.0,437.2 1137.4,440.4 C1136.9,443.6 1135.1,445.9 1130.5,445.6 C1125.9,445.3 1116.1,441.2 1109.7,438.6 C1103.4,436.1 1095.9,430.3 1092.4,430.0 C1089.0,429.7 1089.2,432.9 1089.0,436.9 C1088.7,441.0 1091.6,450.8 1090.7,454.2 C1089.8,457.7 1086.4,460.0 1083.8,457.7 C1081.2,455.4 1077.4,444.1 1075.1,440.4 C1072.8,436.6 1071.9,434.6 1069.9,435.2 C1067.9,435.8 1065.0,442.1 1063.0,443.8 C1061.0,445.6 1059.5,447.9 1057.8,445.6 C1056.1,443.3 1055.5,434.6 1052.6,430.0 C1049.7,425.4 1046.8,421.0 1040.5,417.9 C1034.1,414.7 1021.7,411.2 1014.5,410.9 C1007.3,410.7 1004.4,414.4 997.2,416.1 C990.0,417.9 979.9,420.2 971.2,421.3 C962.6,422.5 953.0,423.4 945.2,423.1 C937.4,422.8 930.8,420.2 924.5,419.6 C918.1,419.0 910.3,417.0 907.1,419.6 C904.0,422.2 904.3,429.7 905.4,435.2 C906.6,440.7 912.6,446.7 914.1,452.5 C915.5,458.3 916.4,466.1 914.1,469.8 C911.8,473.6 904.3,474.4 900.2,475.0 C896.2,475.6 891.6,475.6 889.8,473.3 C888.1,471.0 889.5,466.1 889.8,461.2 C890.1,456.3 891.6,451.1 891.6,443.8 C891.6,436.6 889.5,423.6 889.8,417.9 C890.1,412.1 891.0,411.2 893.3,409.2 C895.6,407.2 903.4,407.5 903.7,405.7 C904.0,404.0 898.2,401.7 895.0,398.8 C891.8,395.9 886.9,390.5 884.6,388.4 C882.3,386.4 886.1,386.1 881.2,386.7 C876.2,387.3 859.2,393.3 854.8,391.9 C850.5,390.5 850.5,381.2 854.8,378.0Z" fill="none" stroke="#000" stroke-width="14" opacity="0.28" filter="url(#blur4)"/></g>
<path d="M1090.7,343.4 C1091.4,338.5 1093.3,334.6 1095.9,331.3 C1098.5,328.0 1103.1,324.9 1106.3,323.5 C1109.5,322.1 1112.0,321.3 1114.9,322.6 C1117.8,323.9 1121.9,327.5 1123.6,331.3 C1125.3,335.0 1125.9,339.4 1125.3,345.1 C1124.7,350.9 1122.7,359.9 1120.1,365.9 C1117.5,372.0 1113.5,379.5 1109.7,381.5 C1106.0,383.5 1100.6,381.5 1097.6,378.0 C1094.6,374.6 1092.7,366.5 1091.6,360.7 C1090.4,355.0 1090.0,348.3 1090.7,343.4Z" fill="#8c8c8c" opacity="0.85"/>
<path d="M1095.9,350.3 C1096.2,344.9 1100.2,339.7 1102.8,336.5 C1105.4,333.3 1108.9,331.0 1111.5,331.3 C1114.1,331.6 1117.5,333.9 1118.4,338.2 C1119.3,342.5 1118.1,351.8 1116.7,357.3 C1115.2,362.7 1112.3,369.1 1109.7,371.1 C1107.1,373.1 1103.4,372.8 1101.1,369.4 C1098.8,365.9 1095.6,355.8 1095.9,350.3Z" fill="#747474" opacity="0.85"/>
</g>
<g clip-path="url(#mb3)"><ellipse cx="955" cy="410" rx="25" ry="10" fill="#d0d0d0" opacity="0.4" filter="url(#blur4)"/></g>
<g clip-path="url(#mb3)"><ellipse cx="1040" cy="385" rx="12" ry="22" fill="#c8c8c8" opacity="0.4" filter="url(#blur4)"/></g>
<ellipse cx="986.8" cy="371.1" rx="17.3" ry="14.7" fill="#ffffff" filter="url(#blur1)"/>
</g>
<defs><clipPath id="mc4"><rect x="1175.3" y="294.4" width="305.9" height="185.8"/></clipPath><linearGradient id="mg4" gradientUnits="userSpaceOnUse" x1="1175.3" y1="0" x2="1481.2" y2="0"><stop offset="0" stop-color="#969696"/><stop offset="0.3" stop-color="#959595"/><stop offset="0.6" stop-color="#8c8c8c"/><stop offset="0.8" stop-color="#828282"/><stop offset="0.9" stop-color="#6a6a6a"/><stop offset="1" stop-color="#404040"/></linearGradient></defs>
<rect x="1175.3" y="294.4" width="305.9" height="185.8" fill="#030303"/>
<g clip-path="url(#mc4)"><g filter="url(#blur1)">
<path d="M1175.2,376.3 C1180.1,372.8 1195.4,372.6 1204.6,367.7 C1213.9,362.7 1220.5,353.2 1230.6,346.9 C1240.7,340.5 1253.7,334.5 1265.2,329.6 C1276.8,324.7 1288.3,320.0 1299.9,317.4 C1311.4,314.8 1325.8,313.7 1334.5,314.0 C1343.2,314.3 1345.2,315.1 1351.8,319.2 C1358.5,323.2 1367.1,334.8 1374.3,338.2 C1381.5,341.7 1387.9,339.9 1395.1,339.9 C1402.3,339.9 1413.6,343.4 1417.6,338.2 C1421.7,333.0 1417.3,314.6 1419.4,308.8 C1421.4,303.0 1425.7,303.6 1429.7,303.6 C1433.8,303.6 1440.7,304.2 1443.6,308.8 C1446.5,313.4 1447.3,323.8 1447.1,331.3 C1446.8,338.8 1440.4,348.0 1441.9,353.8 C1443.3,359.6 1452.0,361.0 1455.7,365.9 C1459.5,370.8 1461.5,376.0 1464.4,383.2 C1467.3,390.5 1471.6,402.6 1473.0,409.2 C1474.5,415.8 1475.9,420.5 1473.0,423.1 C1470.1,425.7 1461.5,425.4 1455.7,424.8 C1449.9,424.2 1444.2,421.6 1438.4,419.6 C1432.6,417.6 1423.1,411.5 1421.1,412.7 C1419.1,413.8 1424.8,421.3 1426.3,426.5 C1427.7,431.7 1429.5,439.5 1429.7,443.8 C1430.0,448.2 1429.5,451.9 1428.0,452.5 C1426.6,453.1 1424.5,451.1 1421.1,447.3 C1417.6,443.6 1410.1,431.1 1407.2,430.0 C1404.3,428.8 1405.2,437.8 1403.8,440.4 C1402.3,443.0 1400.3,445.9 1398.6,445.6 C1396.8,445.3 1395.4,442.4 1393.4,438.6 C1391.4,434.9 1390.5,428.0 1386.5,423.1 C1382.4,418.2 1377.8,411.5 1369.1,409.2 C1360.5,406.9 1344.6,408.1 1334.5,409.2 C1324.4,410.4 1317.2,414.4 1308.5,416.1 C1299.9,417.9 1294.1,420.2 1282.6,419.6 C1271.0,419.0 1247.6,411.5 1239.3,412.7 C1230.9,413.8 1231.2,420.8 1232.3,426.5 C1233.5,432.3 1243.6,440.7 1246.2,447.3 C1248.8,453.9 1249.1,463.2 1247.9,466.4 C1246.8,469.5 1241.9,469.2 1239.3,466.4 C1236.7,463.5 1234.1,448.2 1232.3,449.0 C1230.6,449.9 1230.6,468.1 1228.9,471.5 C1227.1,475.0 1224.0,474.4 1221.9,469.8 C1219.9,465.2 1219.1,453.4 1216.8,443.8 C1214.4,434.3 1208.1,419.0 1208.1,412.7 C1208.1,406.3 1213.9,408.1 1216.8,405.7 C1219.6,403.4 1226.0,401.1 1225.4,398.8 C1224.8,396.5 1216.8,394.5 1213.3,391.9 C1209.8,389.3 1211.0,383.8 1204.6,383.2 C1198.3,382.7 1180.1,389.6 1175.2,388.4 C1170.3,387.3 1170.3,379.8 1175.2,376.3Z" fill="url(#mg4)"/>
<clipPath id="mb4"><path d="M1175.2,376.3 C1180.1,372.8 1195.4,372.6 1204.6,367.7 C1213.9,362.7 1220.5,353.2 1230.6,346.9 C1240.7,340.5 1253.7,334.5 1265.2,329.6 C1276.8,324.7 1288.3,320.0 1299.9,317.4 C1311.4,314.8 1325.8,313.7 1334.5,314.0 C1343.2,314.3 1345.2,315.1 1351.8,319.2 C1358.5,323.2 1367.1,334.8 1374.3,338.2 C1381.5,341.7 1387.9,339.9 1395.1,339.9 C1402.3,339.9 1413.6,343.4 1417.6,338.2 C1421.7,333.0 1417.3,314.6 1419.4,308.8 C1421.4,303.0 1425.7,303.6 1429.7,303.6 C1433.8,303.6 1440.7,304.2 1443.6,308.8 C1446.5,313.4 1447.3,323.8 1447.1,331.3 C1446.8,338.8 1440.4,348.0 1441.9,353.8 C1443.3,359.6 1452.0,361.0 1455.7,365.9 C1459.5,370.8 1461.5,376.0 1464.4,383.2 C1467.3,390.5 1471.6,402.6 1473.0,409.2 C1474.5,415.8 1475.9,420.5 1473.0,423.1 C1470.1,425.7 1461.5,425.4 1455.7,424.8 C1449.9,424.2 1444.2,421.6 1438.4,419.6 C1432.6,417.6 1423.1,411.5 1421.1,412.7 C1419.1,413.8 1424.8,421.3 1426.3,426.5 C1427.7,431.7 1429.5,439.5 1429.7,443.8 C1430.0,448.2 1429.5,451.9 1428.0,452.5 C1426.6,453.1 1424.5,451.1 1421.1,447.3 C1417.6,443.6 1410.1,431.1 1407.2,430.0 C1404.3,428.8 1405.2,437.8 1403.8,440.4 C1402.3,443.0 1400.3,445.9 1398.6,445.6 C1396.8,445.3 1395.4,442.4 1393.4,438.6 C1391.4,434.9 1390.5,428.0 1386.5,423.1 C1382.4,418.2 1377.8,411.5 1369.1,409.2 C1360.5,406.9 1344.6,408.1 1334.5,409.2 C1324.4,410.4 1317.2,414.4 1308.5,416.1 C1299.9,417.9 1294.1,420.2 1282.6,419.6 C1271.0,419.0 1247.6,411.5 1239.3,412.7 C1230.9,413.8 1231.2,420.8 1232.3,426.5 C1233.5,432.3 1243.6,440.7 1246.2,447.3 C1248.8,453.9 1249.1,463.2 1247.9,466.4 C1246.8,469.5 1241.9,469.2 1239.3,466.4 C1236.7,463.5 1234.1,448.2 1232.3,449.0 C1230.6,449.9 1230.6,468.1 1228.9,471.5 C1227.1,475.0 1224.0,474.4 1221.9,469.8 C1219.9,465.2 1219.1,453.4 1216.8,443.8 C1214.4,434.3 1208.1,419.0 1208.1,412.7 C1208.1,406.3 1213.9,408.1 1216.8,405.7 C1219.6,403.4 1226.0,401.1 1225.4,398.8 C1224.8,396.5 1216.8,394.5 1213.3,391.9 C1209.8,389.3 1211.0,383.8 1204.6,383.2 C1198.3,382.7 1180.1,389.6 1175.2,388.4 C1170.3,387.3 1170.3,379.8 1175.2,376.3Z"/></clipPath>
<g clip-path="url(#mb4)"><path d="M1175.2,376.3 C1180.1,372.8 1195.4,372.6 1204.6,367.7 C1213.9,362.7 1220.5,353.2 1230.6,346.9 C1240.7,340.5 1253.7,334.5 1265.2,329.6 C1276.8,324.7 1288.3,320.0 1299.9,317.4 C1311.4,314.8 1325.8,313.7 1334.5,314.0 C1343.2,314.3 1345.2,315.1 1351.8,319.2 C1358.5,323.2 1367.1,334.8 1374.3,338.2 C1381.5,341.7 1387.9,339.9 1395.1,339.9 C1402.3,339.9 1413.6,343.4 1417.6,338.2 C1421.7,333.0 1417.3,314.6 1419.4,308.8 C1421.4,303.0 1425.7,303.6 1429.7,303.6 C1433.8,303.6 1440.7,304.2 1443.6,308.8 C1446.5,313.4 1447.3,323.8 1447.1,331.3 C1446.8,338.8 1440.4,348.0 1441.9,353.8 C1443.3,359.6 1452.0,361.0 1455.7,365.9 C1459.5,370.8 1461.5,376.0 1464.4,383.2 C1467.3,390.5 1471.6,402.6 1473.0,409.2 C1474.5,415.8 1475.9,420.5 1473.0,423.1 C1470.1,425.7 1461.5,425.4 1455.7,424.8 C1449.9,424.2 1444.2,421.6 1438.4,419.6 C1432.6,417.6 1423.1,411.5 1421.1,412.7 C1419.1,413.8 1424.8,421.3 1426.3,426.5 C1427.7,431.7 1429.5,439.5 1429.7,443.8 C1430.0,448.2 1429.5,451.9 1428.0,452.5 C1426.6,453.1 1424.5,451.1 1421.1,447.3 C1417.6,443.6 1410.1,431.1 1407.2,430.0 C1404.3,428.8 1405.2,437.8 1403.8,440.4 C1402.3,443.0 1400.3,445.9 1398.6,445.6 C1396.8,445.3 1395.4,442.4 1393.4,438.6 C1391.4,434.9 1390.5,428.0 1386.5,423.1 C1382.4,418.2 1377.8,411.5 1369.1,409.2 C1360.5,406.9 1344.6,408.1 1334.5,409.2 C1324.4,410.4 1317.2,414.4 1308.5,416.1 C1299.9,417.9 1294.1,420.2 1282.6,419.6 C1271.0,419.0 1247.6,411.5 1239.3,412.7 C1230.9,413.8 1231.2,420.8 1232.3,426.5 C1233.5,432.3 1243.6,440.7 1246.2,447.3 C1248.8,453.9 1249.1,463.2 1247.9,466.4 C1246.8,469.5 1241.9,469.2 1239.3,466.4 C1236.7,463.5 1234.1,448.2 1232.3,449.0 C1230.6,449.9 1230.6,468.1 1228.9,471.5 C1227.1,475.0 1224.0,474.4 1221.9,469.8 C1219.9,465.2 1219.1,453.4 1216.8,443.8 C1214.4,434.3 1208.1,419.0 1208.1,412.7 C1208.1,406.3 1213.9,408.1 1216.8,405.7 C1219.6,403.4 1226.0,401.1 1225.4,398.8 C1224.8,396.5 1216.8,394.5 1213.3,391.9 C1209.8,389.3 1211.0,383.8 1204.6,383.2 C1198.3,382.7 1180.1,389.6 1175.2,388.4 C1170.3,387.3 1170.3,379.8 1175.2,376.3Z" fill="none" stroke="#000" stroke-width="14" opacity="0.25" filter="url(#blur4)"/></g>
<path d="M1419.4,312.2 C1419.1,309.4 1422.1,302.4 1424.5,300.1 C1427.0,297.8 1432.8,297.2 1434.1,298.4 C1435.4,299.5 1433.6,303.9 1432.3,307.0 C1431.0,310.2 1428.4,316.6 1426.3,317.4 C1424.1,318.3 1419.6,315.1 1419.4,312.2Z" fill="#3a3a3a" opacity="0.85"/>
<path d="M1417.6,338.2 C1417.6,331.0 1419.1,319.6 1421.1,314.0 C1423.1,308.3 1426.6,305.9 1429.7,304.5 C1432.9,303.0 1437.2,303.2 1440.1,305.3 C1443.0,307.5 1445.9,312.2 1447.1,317.4 C1448.2,322.6 1447.9,330.1 1447.1,336.5 C1446.2,342.8 1444.5,351.2 1441.9,355.5 C1439.3,359.9 1434.9,362.2 1431.5,362.5 C1428.0,362.7 1423.4,361.3 1421.1,357.3 C1418.8,353.2 1417.6,345.4 1417.6,338.2Z" fill="#6e6e6e" opacity="0.85"/>
</g>
<ellipse cx="1314.6" cy="368.0" rx="19.4" ry="15.9" fill="#f6f6f6" filter="url(#blur1)"/>
</g>
<defs><clipPath id="mc5"><rect x="1497.0" y="294.4" width="306.2" height="185.8"/></clipPath><linearGradient id="mg5" gradientUnits="userSpaceOnUse" x1="1497.0" y1="0" x2="1803.2" y2="0"><stop offset="0" stop-color="#a8a8a8"/><stop offset="0.3" stop-color="#aaaaaa"/><stop offset="0.55" stop-color="#989898"/><stop offset="0.75" stop-color="#8e8e8e"/><stop offset="0.9" stop-color="#7c7c7c"/><stop offset="1" stop-color="#505050"/></linearGradient></defs>
<rect x="1497.0" y="294.4" width="306.2" height="185.8" fill="#030303"/>
<g clip-path="url(#mc5)"><g filter="url(#blur1)">
<path d="M1497.0,374.2 C1501.7,370.7 1517.6,367.8 1525.2,363.7 C1532.8,359.5 1535.4,354.0 1542.8,349.6 C1550.1,345.2 1558.9,341.4 1569.2,337.3 C1579.4,333.2 1592.6,328.2 1604.4,324.9 C1616.1,321.7 1629.3,318.5 1639.5,317.9 C1649.8,317.3 1658.6,319.1 1665.9,321.4 C1673.3,323.8 1676.2,329.3 1683.5,332.0 C1690.9,334.6 1703.5,335.8 1709.9,337.3 C1716.4,338.7 1720.2,343.7 1722.2,340.8 C1724.3,337.8 1720.5,324.9 1722.2,319.7 C1724.0,314.4 1729.0,309.1 1732.8,309.1 C1736.6,309.1 1742.2,315.9 1745.1,319.7 C1748.0,323.5 1748.9,332.0 1750.4,332.0 C1751.8,332.0 1751.3,322.9 1753.9,319.7 C1756.5,316.4 1762.4,312.3 1766.2,312.6 C1770.0,312.9 1774.7,316.7 1776.8,321.4 C1778.8,326.1 1780.0,333.7 1778.5,340.8 C1777.1,347.8 1767.7,356.9 1768.0,363.7 C1768.3,370.4 1776.8,374.8 1780.3,381.2 C1783.8,387.7 1787.3,395.0 1789.1,402.4 C1790.8,409.7 1791.4,419.4 1790.8,425.2 C1790.3,431.1 1788.8,435.8 1785.6,437.5 C1782.3,439.3 1776.8,437.8 1771.5,435.8 C1766.2,433.7 1759.8,429.3 1753.9,425.2 C1748.0,421.1 1738.7,410.0 1736.3,411.2 C1734.0,412.3 1739.8,426.4 1739.8,432.3 C1739.8,438.1 1737.8,444.0 1736.3,446.3 C1734.8,448.7 1732.8,448.1 1731.0,446.3 C1729.3,444.6 1727.8,437.0 1725.7,435.8 C1723.7,434.6 1720.5,439.6 1718.7,439.3 C1717.0,439.0 1715.8,437.0 1715.2,434.0 C1714.6,431.1 1717.5,425.5 1715.2,421.7 C1712.8,417.9 1709.3,413.5 1701.1,411.2 C1692.9,408.8 1674.7,407.0 1665.9,407.6 C1657.1,408.2 1655.7,412.6 1648.3,414.7 C1641.0,416.7 1630.7,419.7 1621.9,419.9 C1613.2,420.2 1604.4,417.9 1595.6,416.4 C1586.8,415.0 1578.0,411.4 1569.2,411.2 C1560.4,410.9 1546.3,410.3 1542.8,414.7 C1539.3,419.1 1546.6,430.5 1548.1,437.5 C1549.5,444.6 1552.2,451.0 1551.6,456.9 C1551.0,462.8 1547.5,470.1 1544.5,472.7 C1541.6,475.4 1536.9,475.4 1534.0,472.7 C1531.1,470.1 1527.8,462.2 1526.9,456.9 C1526.1,451.6 1529.0,448.7 1528.7,441.1 C1528.4,433.4 1524.0,417.6 1525.2,411.2 C1526.4,404.7 1532.5,404.7 1535.7,402.4 C1539.0,400.0 1544.8,398.5 1544.5,397.1 C1544.2,395.6 1538.4,395.9 1534.0,393.6 C1529.6,391.2 1524.3,384.5 1518.1,383.0 C1512.0,381.5 1500.6,386.2 1497.0,384.8 C1493.5,383.3 1492.3,377.7 1497.0,374.2Z" fill="url(#mg5)"/>
<clipPath id="mb5"><path d="M1497.0,374.2 C1501.7,370.7 1517.6,367.8 1525.2,363.7 C1532.8,359.5 1535.4,354.0 1542.8,349.6 C1550.1,345.2 1558.9,341.4 1569.2,337.3 C1579.4,333.2 1592.6,328.2 1604.4,324.9 C1616.1,321.7 1629.3,318.5 1639.5,317.9 C1649.8,317.3 1658.6,319.1 1665.9,321.4 C1673.3,323.8 1676.2,329.3 1683.5,332.0 C1690.9,334.6 1703.5,335.8 1709.9,337.3 C1716.4,338.7 1720.2,343.7 1722.2,340.8 C1724.3,337.8 1720.5,324.9 1722.2,319.7 C1724.0,314.4 1729.0,309.1 1732.8,309.1 C1736.6,309.1 1742.2,315.9 1745.1,319.7 C1748.0,323.5 1748.9,332.0 1750.4,332.0 C1751.8,332.0 1751.3,322.9 1753.9,319.7 C1756.5,316.4 1762.4,312.3 1766.2,312.6 C1770.0,312.9 1774.7,316.7 1776.8,321.4 C1778.8,326.1 1780.0,333.7 1778.5,340.8 C1777.1,347.8 1767.7,356.9 1768.0,363.7 C1768.3,370.4 1776.8,374.8 1780.3,381.2 C1783.8,387.7 1787.3,395.0 1789.1,402.4 C1790.8,409.7 1791.4,419.4 1790.8,425.2 C1790.3,431.1 1788.8,435.8 1785.6,437.5 C1782.3,439.3 1776.8,437.8 1771.5,435.8 C1766.2,433.7 1759.8,429.3 1753.9,425.2 C1748.0,421.1 1738.7,410.0 1736.3,411.2 C1734.0,412.3 1739.8,426.4 1739.8,432.3 C1739.8,438.1 1737.8,444.0 1736.3,446.3 C1734.8,448.7 1732.8,448.1 1731.0,446.3 C1729.3,444.6 1727.8,437.0 1725.7,435.8 C1723.7,434.6 1720.5,439.6 1718.7,439.3 C1717.0,439.0 1715.8,437.0 1715.2,434.0 C1714.6,431.1 1717.5,425.5 1715.2,421.7 C1712.8,417.9 1709.3,413.5 1701.1,411.2 C1692.9,408.8 1674.7,407.0 1665.9,407.6 C1657.1,408.2 1655.7,412.6 1648.3,414.7 C1641.0,416.7 1630.7,419.7 1621.9,419.9 C1613.2,420.2 1604.4,417.9 1595.6,416.4 C1586.8,415.0 1578.0,411.4 1569.2,411.2 C1560.4,410.9 1546.3,410.3 1542.8,414.7 C1539.3,419.1 1546.6,430.5 1548.1,437.5 C1549.5,444.6 1552.2,451.0 1551.6,456.9 C1551.0,462.8 1547.5,470.1 1544.5,472.7 C1541.6,475.4 1536.9,475.4 1534.0,472.7 C1531.1,470.1 1527.8,462.2 1526.9,456.9 C1526.1,451.6 1529.0,448.7 1528.7,441.1 C1528.4,433.4 1524.0,417.6 1525.2,411.2 C1526.4,404.7 1532.5,404.7 1535.7,402.4 C1539.0,400.0 1544.8,398.5 1544.5,397.1 C1544.2,395.6 1538.4,395.9 1534.0,393.6 C1529.6,391.2 1524.3,384.5 1518.1,383.0 C1512.0,381.5 1500.6,386.2 1497.0,384.8 C1493.5,383.3 1492.3,377.7 1497.0,374.2Z"/></clipPath>
<g clip-path="url(#mb5)"><path d="M1497.0,374.2 C1501.7,370.7 1517.6,367.8 1525.2,363.7 C1532.8,359.5 1535.4,354.0 1542.8,349.6 C1550.1,345.2 1558.9,341.4 1569.2,337.3 C1579.4,333.2 1592.6,328.2 1604.4,324.9 C1616.1,321.7 1629.3,318.5 1639.5,317.9 C1649.8,317.3 1658.6,319.1 1665.9,321.4 C1673.3,323.8 1676.2,329.3 1683.5,332.0 C1690.9,334.6 1703.5,335.8 1709.9,337.3 C1716.4,338.7 1720.2,343.7 1722.2,340.8 C1724.3,337.8 1720.5,324.9 1722.2,319.7 C1724.0,314.4 1729.0,309.1 1732.8,309.1 C1736.6,309.1 1742.2,315.9 1745.1,319.7 C1748.0,323.5 1748.9,332.0 1750.4,332.0 C1751.8,332.0 1751.3,322.9 1753.9,319.7 C1756.5,316.4 1762.4,312.3 1766.2,312.6 C1770.0,312.9 1774.7,316.7 1776.8,321.4 C1778.8,326.1 1780.0,333.7 1778.5,340.8 C1777.1,347.8 1767.7,356.9 1768.0,363.7 C1768.3,370.4 1776.8,374.8 1780.3,381.2 C1783.8,387.7 1787.3,395.0 1789.1,402.4 C1790.8,409.7 1791.4,419.4 1790.8,425.2 C1790.3,431.1 1788.8,435.8 1785.6,437.5 C1782.3,439.3 1776.8,437.8 1771.5,435.8 C1766.2,433.7 1759.8,429.3 1753.9,425.2 C1748.0,421.1 1738.7,410.0 1736.3,411.2 C1734.0,412.3 1739.8,426.4 1739.8,432.3 C1739.8,438.1 1737.8,444.0 1736.3,446.3 C1734.8,448.7 1732.8,448.1 1731.0,446.3 C1729.3,444.6 1727.8,437.0 1725.7,435.8 C1723.7,434.6 1720.5,439.6 1718.7,439.3 C1717.0,439.0 1715.8,437.0 1715.2,434.0 C1714.6,431.1 1717.5,425.5 1715.2,421.7 C1712.8,417.9 1709.3,413.5 1701.1,411.2 C1692.9,408.8 1674.7,407.0 1665.9,407.6 C1657.1,408.2 1655.7,412.6 1648.3,414.7 C1641.0,416.7 1630.7,419.7 1621.9,419.9 C1613.2,420.2 1604.4,417.9 1595.6,416.4 C1586.8,415.0 1578.0,411.4 1569.2,411.2 C1560.4,410.9 1546.3,410.3 1542.8,414.7 C1539.3,419.1 1546.6,430.5 1548.1,437.5 C1549.5,444.6 1552.2,451.0 1551.6,456.9 C1551.0,462.8 1547.5,470.1 1544.5,472.7 C1541.6,475.4 1536.9,475.4 1534.0,472.7 C1531.1,470.1 1527.8,462.2 1526.9,456.9 C1526.1,451.6 1529.0,448.7 1528.7,441.1 C1528.4,433.4 1524.0,417.6 1525.2,411.2 C1526.4,404.7 1532.5,404.7 1535.7,402.4 C1539.0,400.0 1544.8,398.5 1544.5,397.1 C1544.2,395.6 1538.4,395.9 1534.0,393.6 C1529.6,391.2 1524.3,384.5 1518.1,383.0 C1512.0,381.5 1500.6,386.2 1497.0,384.8 C1493.5,383.3 1492.3,377.7 1497.0,374.2Z" fill="none" stroke="#000" stroke-width="14" opacity="0.25" filter="url(#blur4)"/></g>
<path d="M1722.2,340.8 C1719.0,336.4 1722.2,324.9 1724.0,319.7 C1725.7,314.4 1729.6,310.0 1732.8,309.1 C1736.0,308.2 1740.4,310.6 1743.3,314.4 C1746.3,318.2 1750.4,326.7 1750.4,332.0 C1750.4,337.3 1748.0,344.6 1743.3,346.1 C1738.7,347.5 1725.5,345.2 1722.2,340.8Z" fill="#3a3a3a" opacity="0.85"/>
<path d="M1750.4,340.8 C1750.1,333.4 1751.6,327.7 1753.9,323.2 C1756.2,318.6 1760.9,314.7 1764.5,313.5 C1768.0,312.3 1772.5,313.1 1775.0,316.1 C1777.5,319.2 1779.4,325.5 1779.4,332.0 C1779.4,338.4 1777.2,348.4 1775.0,354.9 C1772.8,361.3 1769.4,368.6 1766.2,370.7 C1763.0,372.7 1758.3,372.2 1755.7,367.2 C1753.0,362.2 1750.7,348.1 1750.4,340.8Z" fill="#8c8c8c" opacity="0.85"/>
</g>
</g>
</g>
<rect x="973.5" y="514.5" width="712.6" height="26.4" fill="url(#gb13)" stroke="#000" stroke-width="2.6"/>
<text x="863.5" y="540.0" font-size="35.5" fill="#000" text-anchor="start" textLength="76" lengthAdjust="spacingAndGlyphs" >High</text>
<text x="1721.5" y="540.0" font-size="35.5" fill="#000" text-anchor="start" textLength="69.5" lengthAdjust="spacingAndGlyphs" >Low</text>
<path d="M127.2,720.8 V1144 M125.3,1144 H764" stroke="#2b0a07" stroke-width="3.6" fill="none"/>
<path d="M116,1106.0 H127.3" stroke="#2b0a07" stroke-width="3.6"/>
<text x="111.3" y="1117.9" font-size="36" fill="#2b0a07" text-anchor="end" textLength="57.599999999999994" lengthAdjust="spacingAndGlyphs" >100</text>
<path d="M116,1009.7 H127.3" stroke="#2b0a07" stroke-width="3.6"/>
<text x="111.3" y="1021.6" font-size="36" fill="#2b0a07" text-anchor="end" textLength="57.599999999999994" lengthAdjust="spacingAndGlyphs" >150</text>
<path d="M116,913.4 H127.3" stroke="#2b0a07" stroke-width="3.6"/>
<text x="111.3" y="925.3" font-size="36" fill="#2b0a07" text-anchor="end" textLength="57.599999999999994" lengthAdjust="spacingAndGlyphs" >200</text>
<path d="M116,817.1 H127.3" stroke="#2b0a07" stroke-width="3.6"/>
<text x="111.3" y="829.0" font-size="36" fill="#2b0a07" text-anchor="end" textLength="57.599999999999994" lengthAdjust="spacingAndGlyphs" >250</text>
<path d="M116,720.8 H127.3" stroke="#2b0a07" stroke-width="3.6"/>
<text x="111.3" y="732.7" font-size="36" fill="#2b0a07" text-anchor="end" textLength="57.599999999999994" lengthAdjust="spacingAndGlyphs" >300</text>
<path d="M182.0,1144 V1156.5" stroke="#2b0a07" stroke-width="3.6"/>
<text x="182.0" y="1194.6" font-size="36" fill="#2b0a07" text-anchor="middle" textLength="19.2" lengthAdjust="spacingAndGlyphs" >0</text>
<path d="M291.5,1144 V1156.5" stroke="#2b0a07" stroke-width="3.6"/>
<text x="291.5" y="1194.6" font-size="36" fill="#2b0a07" text-anchor="middle" textLength="38.4" lengthAdjust="spacingAndGlyphs" >10</text>
<path d="M401.0,1144 V1156.5" stroke="#2b0a07" stroke-width="3.6"/>
<text x="401.0" y="1194.6" font-size="36" fill="#2b0a07" text-anchor="middle" textLength="38.4" lengthAdjust="spacingAndGlyphs" >20</text>
<path d="M510.5,1144 V1156.5" stroke="#2b0a07" stroke-width="3.6"/>
<text x="510.5" y="1194.6" font-size="36" fill="#2b0a07" text-anchor="middle" textLength="38.4" lengthAdjust="spacingAndGlyphs" >30</text>
<path d="M620.0,1144 V1156.5" stroke="#2b0a07" stroke-width="3.6"/>
<text x="620.0" y="1194.6" font-size="36" fill="#2b0a07" text-anchor="middle" textLength="38.4" lengthAdjust="spacingAndGlyphs" >40</text>
<path d="M729.5,1144 V1156.5" stroke="#2b0a07" stroke-width="3.6"/>
<text x="729.5" y="1194.6" font-size="36" fill="#2b0a07" text-anchor="middle" textLength="38.4" lengthAdjust="spacingAndGlyphs" >50</text>
<text x="365.2" y="1248.9" font-size="41.5" fill="#2b0a07" text-anchor="start" textLength="161.8" lengthAdjust="spacingAndGlyphs" >Time (h)</text>
<text transform="translate(35.9,1153.9) rotate(-90)" x="0" y="0" font-size="41" fill="#2b0a07" textLength="445.3" lengthAdjust="spacingAndGlyphs">Fluorescence intensity</text>
<polyline points="182.4,1111.8 204.8,991.2 215.6,910.6 347.0,822.2 445.5,900.8 707.8,1055.9" fill="none" stroke="#2e0a05" stroke-width="3.2" stroke-linejoin="round"/>
<circle cx="182.4" cy="1111.8" r="8.7" fill="#82564f"/>
<circle cx="204.8" cy="991.2" r="8.7" fill="#82564f"/>
<circle cx="215.6" cy="910.6" r="8.7" fill="#82564f"/>
<circle cx="347.0" cy="822.2" r="8.7" fill="#82564f"/>
<circle cx="445.5" cy="900.8" r="8.7" fill="#82564f"/>
<circle cx="707.8" cy="1055.9" r="8.7" fill="#82564f"/>
<path d="M981.5,719.7 V1142.8 M970,1142.8 H1819" stroke="#2b0a07" stroke-width="3.6" fill="none"/>
<path d="M970,1142.0 H981.5" stroke="#2b0a07" stroke-width="3.6"/>
<text x="963.3" y="1152.9" font-size="36" fill="#2b0a07" text-anchor="end" textLength="19.1" lengthAdjust="spacingAndGlyphs" >0</text>
<path d="M970,1021.7 H981.5" stroke="#2b0a07" stroke-width="3.6"/>
<text x="963.3" y="1032.6" font-size="36" fill="#2b0a07" text-anchor="end" textLength="57.300000000000004" lengthAdjust="spacingAndGlyphs" >200</text>
<path d="M970,901.5 H981.5" stroke="#2b0a07" stroke-width="3.6"/>
<text x="963.3" y="912.4" font-size="36" fill="#2b0a07" text-anchor="end" textLength="57.300000000000004" lengthAdjust="spacingAndGlyphs" >400</text>
<path d="M970,781.2 H981.5" stroke="#2b0a07" stroke-width="3.6"/>
<text x="963.3" y="792.1" font-size="36" fill="#2b0a07" text-anchor="end" textLength="57.300000000000004" lengthAdjust="spacingAndGlyphs" >600</text>
<path d="M1083.9,1142.8 V1155.5" stroke="#2b0a07" stroke-width="3.6"/>
<text transform="translate(1097.9,1186) rotate(-45)" x="0" y="0" font-size="36" fill="#2b0a07" text-anchor="end">Tumor</text>
<path d="M1188.1,1142.8 V1155.5" stroke="#2b0a07" stroke-width="3.6"/>
<text transform="translate(1202.1,1186) rotate(-45)" x="0" y="0" font-size="36" fill="#2b0a07" text-anchor="end">Heart</text>
<path d="M1292.3,1142.8 V1155.5" stroke="#2b0a07" stroke-width="3.6"/>
<text transform="translate(1306.3,1186) rotate(-45)" x="0" y="0" font-size="36" fill="#2b0a07" text-anchor="end">Lung</text>
<path d="M1396.5,1142.8 V1155.5" stroke="#2b0a07" stroke-width="3.6"/>
<text transform="translate(1410.5,1186) rotate(-45)" x="0" y="0" font-size="36" fill="#2b0a07" text-anchor="end">Spleen</text>
<path d="M1500.7,1142.8 V1155.5" stroke="#2b0a07" stroke-width="3.6"/>
<text transform="translate(1514.7,1186) rotate(-45)" x="0" y="0" font-size="36" fill="#2b0a07" text-anchor="end">Liver</text>
<path d="M1604.9,1142.8 V1155.5" stroke="#2b0a07" stroke-width="3.6"/>
<text transform="translate(1618.9,1186) rotate(-45)" x="0" y="0" font-size="36" fill="#2b0a07" text-anchor="end">Kidney</text>
<text transform="translate(885.7,1153.6) rotate(-90)" x="0" y="0" font-size="41" fill="#2b0a07" textLength="446.4" lengthAdjust="spacingAndGlyphs">Fluorescence intensity</text>
<polyline points="1083.9,1000.1 1188.1,1101.2 1292.3,1107.0 1396.5,1124.9 1500.7,990.0 1604.9,1019.0" fill="none" stroke="#8d5d15" stroke-width="3.4" stroke-linejoin="round"/>
<polyline points="1083.9,1109.9 1188.1,1132.0 1292.3,1132.8 1396.5,1138.3 1500.7,1115.8 1604.9,1115.5" fill="none" stroke="#0a5e3b" stroke-width="3.4" stroke-linejoin="round"/>
<circle cx="1083.9" cy="1000.1" r="8.6" fill="#955f18"/>
<circle cx="1188.1" cy="1101.2" r="8.6" fill="#955f18"/>
<circle cx="1292.3" cy="1107.0" r="8.6" fill="#955f18"/>
<circle cx="1396.5" cy="1124.9" r="8.6" fill="#955f18"/>
<circle cx="1500.7" cy="990.0" r="8.6" fill="#955f18"/>
<circle cx="1604.9" cy="1019.0" r="8.6" fill="#955f18"/>
<rect x="1075.6" y="1101.6" width="16.6" height="16.6" fill="#0c6b47"/>
<rect x="1179.8" y="1123.7" width="16.6" height="16.6" fill="#0c6b47"/>
<rect x="1284.0" y="1124.5" width="16.6" height="16.6" fill="#0c6b47"/>
<rect x="1388.2" y="1130.0" width="16.6" height="16.6" fill="#0c6b47"/>
<rect x="1492.4" y="1107.5" width="16.6" height="16.6" fill="#0c6b47"/>
<rect x="1596.6" y="1107.2" width="16.6" height="16.6" fill="#0c6b47"/>
<path d="M1663,798.6 H1709" stroke="#955f18" stroke-width="3.6"/><circle cx="1686" cy="798.6" r="8.6" fill="#955f18"/>
<text x="1735.0" y="810.5" font-size="34.5" fill="#955f18" text-anchor="start" textLength="67.5" lengthAdjust="spacingAndGlyphs" >12 h</text>
<path d="M1663,886 H1709" stroke="#0c6b47" stroke-width="3.6"/><rect x="1677.4" y="877.7" width="17" height="17" fill="#0c6b47"/>
<text x="1734.0" y="898.2" font-size="34.5" fill="#0c6b47" text-anchor="start" textLength="68.5" lengthAdjust="spacingAndGlyphs" >48 h</text>
<g id="organs">
<rect x="1021.3" y="726.2" width="108.4" height="82.8" fill="#020202"/>
<rect x="1149.9" y="727.4" width="84.7" height="83.1" fill="#020202"/>
<rect x="1254.0" y="720.3" width="100.4" height="83.3" fill="#020202"/>
<rect x="1372.9" y="725.7" width="70.6" height="83.5" fill="#020202"/>
<rect x="1466.0" y="725.7" width="92.9" height="83.5" fill="#020202"/>
<rect x="1578.9" y="725.0" width="56.4" height="82.6" fill="#020202"/>
<rect x="1021.3" y="818.1" width="108.4" height="82.9" fill="#020202"/>
<rect x="1149.9" y="819.2" width="84.7" height="83.2" fill="#020202"/>
<rect x="1254.0" y="818.8" width="100.4" height="83.6" fill="#020202"/>
<rect x="1372.9" y="819.0" width="70.6" height="83.4" fill="#020202"/>
<rect x="1464.3" y="819.0" width="94.6" height="83.4" fill="#020202"/>
<rect x="1578.9" y="819.3" width="56.4" height="82.9" fill="#020202"/>
<defs><radialGradient id="og_t" cx="0.45" cy="0.45" r="0.6"><stop offset="0" stop-color="#fff"/><stop offset="0.75" stop-color="#fafafa"/><stop offset="1" stop-color="#bbb"/></radialGradient><radialGradient id="og_k" cx="0.55" cy="0.45" r="0.6"><stop offset="0" stop-color="#fff"/><stop offset="0.6" stop-color="#e8e8e8"/><stop offset="1" stop-color="#8a8a8a"/></radialGradient></defs>
<g filter="url(#blur1)">
<path d="M1040.0,732.0 C1046.0,729.3 1058.8,728.8 1068.0,729.0 C1077.2,729.2 1088.3,728.7 1095.0,733.0 C1101.7,737.3 1104.3,747.2 1108.0,755.0 C1111.7,762.8 1114.8,772.5 1117.0,780.0 C1119.2,787.5 1121.3,795.3 1121.0,800.0 C1120.7,804.7 1128.5,806.7 1115.0,808.0 C1101.5,809.3 1053.8,811.0 1040.0,808.0 C1026.2,805.0 1033.8,797.2 1032.0,790.0 C1030.2,782.8 1029.0,772.5 1029.0,765.0 C1029.0,757.5 1030.2,750.5 1032.0,745.0 C1033.8,739.5 1034.0,734.7 1040.0,732.0Z" fill="url(#og_t)"/>
<path d="M1172.0,750.0 C1173.5,747.8 1178.2,747.7 1182.0,747.0 C1185.8,746.3 1190.7,744.5 1195.0,746.0 C1199.3,747.5 1203.7,751.7 1208.0,756.0 C1212.3,760.3 1218.2,767.5 1221.0,772.0 C1223.8,776.5 1226.0,780.7 1225.0,783.0 C1224.0,785.3 1220.0,786.5 1215.0,786.0 C1210.0,785.5 1200.8,782.5 1195.0,780.0 C1189.2,777.5 1183.7,774.3 1180.0,771.0 C1176.3,767.7 1174.3,763.5 1173.0,760.0 C1171.7,756.5 1170.5,752.2 1172.0,750.0Z" fill="#707070"/>
<path d="M1158,766 L1172,764 L1170,770 L1160,775 Z" fill="#3a3a3a"/>
<path d="M1268.0,760.0 C1270.2,754.8 1277.7,755.5 1283.0,754.0 C1288.3,752.5 1296.5,748.3 1300.0,751.0 C1303.5,753.7 1304.0,763.5 1304.0,770.0 C1304.0,776.5 1303.7,786.2 1300.0,790.0 C1296.3,793.8 1287.0,793.8 1282.0,793.0 C1277.0,792.2 1272.3,790.5 1270.0,785.0 C1267.7,779.5 1265.8,765.2 1268.0,760.0Z" fill="#4a4a4a"/>
<path d="M1305.0,740.0 C1308.5,737.3 1318.3,735.7 1325.0,736.0 C1331.7,736.3 1341.3,738.0 1345.0,742.0 C1348.7,746.0 1348.2,751.2 1347.0,760.0 C1345.8,768.8 1343.3,788.5 1338.0,795.0 C1332.7,801.5 1321.3,799.8 1315.0,799.0 C1308.7,798.2 1301.5,794.8 1300.0,790.0 C1298.5,785.2 1303.3,775.0 1306.0,770.0 C1308.7,765.0 1316.3,763.0 1316.0,760.0 C1315.7,757.0 1305.8,755.3 1304.0,752.0 C1302.2,748.7 1301.5,742.7 1305.0,740.0Z" fill="#444444"/>
<path d="M1398.0,734.0 C1400.3,730.0 1403.7,728.7 1406.0,731.0 C1408.3,733.3 1409.7,741.8 1412.0,748.0 C1414.3,754.2 1418.8,762.2 1420.0,768.0 C1421.2,773.8 1421.0,779.7 1419.0,783.0 C1417.0,786.3 1411.8,788.5 1408.0,788.0 C1404.2,787.5 1398.7,785.5 1396.0,780.0 C1393.3,774.5 1391.7,762.7 1392.0,755.0 C1392.3,747.3 1395.7,738.0 1398.0,734.0Z" fill="#232323"/>
<path d="M1476.0,732.0 C1480.3,726.5 1491.0,727.7 1500.0,727.0 C1509.0,726.3 1521.7,725.5 1530.0,728.0 C1538.3,730.5 1546.2,735.0 1550.0,742.0 C1553.8,749.0 1553.8,762.3 1553.0,770.0 C1552.2,777.7 1551.8,784.2 1545.0,788.0 C1538.2,791.8 1522.5,793.3 1512.0,793.0 C1501.5,792.7 1488.3,791.5 1482.0,786.0 C1475.7,780.5 1475.0,769.0 1474.0,760.0 C1473.0,751.0 1471.7,737.5 1476.0,732.0Z" fill="#fdfdfd"/>
<ellipse cx="1518" cy="806" rx="10" ry="5" fill="#888"/>
<path d="M1590.0,740.0 C1593.2,737.5 1599.7,734.3 1605.0,735.0 C1610.3,735.7 1618.2,739.3 1622.0,744.0 C1625.8,748.7 1628.0,756.5 1628.0,763.0 C1628.0,769.5 1625.8,778.8 1622.0,783.0 C1618.2,787.2 1610.0,788.5 1605.0,788.0 C1600.0,787.5 1594.5,784.7 1592.0,780.0 C1589.5,775.3 1591.0,765.0 1590.0,760.0 C1589.0,755.0 1586.0,753.3 1586.0,750.0 C1586.0,746.7 1586.8,742.5 1590.0,740.0Z" fill="url(#og_k)"/>
<ellipse cx="1075" cy="857" rx="50" ry="27" fill="#3d3d3d"/>
<ellipse cx="1208" cy="850" rx="18" ry="17" fill="#242424"/>
<path d="M1150,840 L1160,845 L1156,856 L1150,858 Z" fill="#2a2a2a"/>
<path d="M1265.0,840.0 C1269.7,835.3 1278.3,832.0 1290.0,832.0 C1301.7,832.0 1325.8,836.2 1335.0,840.0 C1344.2,843.8 1347.5,850.8 1345.0,855.0 C1342.5,859.2 1329.2,860.0 1320.0,865.0 C1310.8,870.0 1298.7,882.5 1290.0,885.0 C1281.3,887.5 1272.7,884.2 1268.0,880.0 C1263.3,875.8 1262.5,866.7 1262.0,860.0 C1261.5,853.3 1260.3,844.7 1265.0,840.0Z" fill="#171717"/>
<path d="M1470.0,845.0 C1474.8,839.2 1485.0,828.8 1495.0,825.0 C1505.0,821.2 1520.3,819.8 1530.0,822.0 C1539.7,824.2 1548.8,830.8 1553.0,838.0 C1557.2,845.2 1557.2,857.2 1555.0,865.0 C1552.8,872.8 1548.3,880.8 1540.0,885.0 C1531.7,889.2 1515.8,890.8 1505.0,890.0 C1494.2,889.2 1481.5,885.0 1475.0,880.0 C1468.5,875.0 1466.8,865.8 1466.0,860.0 C1465.2,854.2 1465.2,850.8 1470.0,845.0Z" fill="#353535"/>
<path d="M1585.0,838.0 C1586.7,832.8 1594.2,830.2 1600.0,829.0 C1605.8,827.8 1615.2,828.3 1620.0,831.0 C1624.8,833.7 1628.3,839.8 1629.0,845.0 C1629.7,850.2 1628.0,858.2 1624.0,862.0 C1620.0,865.8 1610.7,868.3 1605.0,868.0 C1599.3,867.7 1593.3,865.0 1590.0,860.0 C1586.7,855.0 1583.3,843.2 1585.0,838.0Z" fill="#2c2c2c"/>
</g>
<ellipse cx="1073.7" cy="769.8" rx="50.7" ry="42.0" fill="none" stroke="#f7961c" stroke-width="3.7" stroke-linecap="round" stroke-dasharray="0 6.5"/>
<ellipse cx="1193.4" cy="768.6" rx="40.5" ry="30.9" fill="none" stroke="#fbb40a" stroke-width="3.7" stroke-linecap="round" stroke-dasharray="0 6.5"/>
<ellipse cx="1304.4" cy="769.9" rx="50.0" ry="41.0" fill="none" stroke="#fbb40a" stroke-width="3.7" stroke-linecap="round" stroke-dasharray="0 6.5"/>
<ellipse cx="1404.5" cy="762.4" rx="27.2" ry="33.5" fill="none" stroke="#fbb40a" stroke-width="3.7" stroke-linecap="round" stroke-dasharray="0 6.5"/>
<ellipse cx="1512.5" cy="761.7" rx="46.7" ry="36.2" fill="none" stroke="#fbb40a" stroke-width="3.7" stroke-linecap="round" stroke-dasharray="0 6.5"/>
<ellipse cx="1606.9" cy="762.4" rx="28.0" ry="28.0" fill="none" stroke="#fbb40a" stroke-width="3.7" stroke-linecap="round" stroke-dasharray="0 6.5"/>
<ellipse cx="1075.4" cy="860.0" rx="53.4" ry="31.2" fill="none" stroke="#92d050" stroke-width="3.7" stroke-linecap="round" stroke-dasharray="0 6.5"/>
<ellipse cx="1193.0" cy="857.7" rx="40.5" ry="31.4" fill="none" stroke="#92d050" stroke-width="3.7" stroke-linecap="round" stroke-dasharray="0 6.5"/>
<ellipse cx="1304.5" cy="859.3" rx="47.0" ry="30.9" fill="none" stroke="#92d050" stroke-width="3.7" stroke-linecap="round" stroke-dasharray="0 6.5"/>
<ellipse cx="1404.5" cy="863.2" rx="26.4" ry="31.1" fill="none" stroke="#92d050" stroke-width="3.7" stroke-linecap="round" stroke-dasharray="0 6.5"/>
<ellipse cx="1512.8" cy="856.0" rx="48.0" ry="36.6" fill="none" stroke="#92d050" stroke-width="3.7" stroke-linecap="round" stroke-dasharray="0 6.5"/>
<ellipse cx="1606.5" cy="850.6" rx="28.3" ry="27.2" fill="none" stroke="#92d050" stroke-width="3.7" stroke-linecap="round" stroke-dasharray="0 6.5"/>
</g>
<rect x="1117.5" y="922.7" width="416.1" height="16.6" fill="url(#gb14)" stroke="#000" stroke-width="2.2"/>
<text x="1043.5" y="940.9" font-size="28.5" fill="#000" text-anchor="start" textLength="62.5" lengthAdjust="spacingAndGlyphs" >High</text>
<text x="1554.5" y="940.3" font-size="28.5" fill="#000" text-anchor="start" textLength="58" lengthAdjust="spacingAndGlyphs" >Low</text>
</svg>
</body></html>
